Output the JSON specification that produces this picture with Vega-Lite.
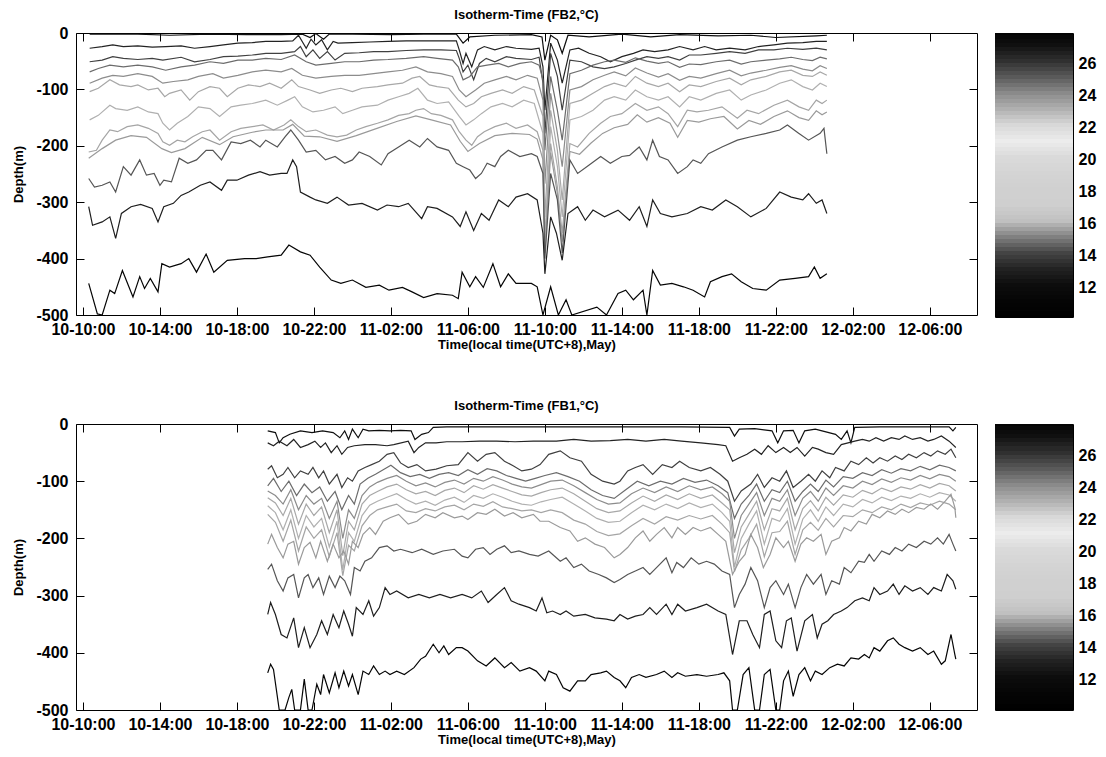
{
"$schema": "https://vega.github.io/schema/vega-lite/v6.json",
"autosize": {"type": "pad"},
"padding": {"left": 12, "top": 8, "right": 2, "bottom": 5},
"background": "white",
"config": {
 "view": {"stroke": "#000", "strokeWidth": 1},
 "axis": {"labelFont": "Liberation Sans", "titleFont": "Liberation Sans", "labelFontWeight": "bold", "titleFontWeight": "bold", "labelColor": "#000", "titleColor": "#000", "tickColor": "#000", "domain": false, "grid": false},
 "title": {"font": "Liberation Sans", "fontWeight": "bold", "fontSize": 13, "color": "#000"}
},
"datasets": {
"iso": [
{"f":2,"T":27,"h":10.35,"d":-2},{"f":2,"T":27,"h":12.85,"d":-2},{"f":2,"T":27,"h":14.5,"d":-4},{"f":2,"T":27,"h":16.6,"d":-2},{"f":2,"T":27,"h":18.5,"d":-3},{"f":2,"T":27,"h":20.3,"d":-3},{"f":2,"T":27,"h":21.4,"d":-2},{"f":2,"T":27,"h":21.8,"d":-8},{"f":2,"T":27,"h":22.1,"d":-1},{"f":2,"T":27,"h":22.5,"d":-11},{"f":2,"T":27,"h":22.8,"d":-2},{"f":2,"T":27,"h":24.0,"d":-2},{"f":2,"T":27,"h":26.0,"d":-3},{"f":2,"T":27,"h":27.7,"d":-2},{"f":2,"T":27,"h":29.4,"d":-2},{"f":2,"T":27,"h":29.75,"d":-18},{"f":2,"T":27,"h":30.1,"d":-7},{"f":2,"T":27,"h":31.4,"d":-4},{"f":2,"T":27,"h":33.3,"d":-3},{"f":2,"T":27,"h":33.85,"d":-7},{"f":2,"T":27,"h":34.0,"d":-48},{"f":2,"T":27,"h":34.3,"d":-4},{"f":2,"T":27,"h":34.65,"d":-12},{"f":2,"T":27,"h":34.9,"d":-36},{"f":2,"T":27,"h":35.2,"d":-4},{"f":2,"T":27,"h":36.3,"d":-7},{"f":2,"T":27,"h":38.0,"d":-2},{"f":2,"T":27,"h":39.5,"d":-7},{"f":2,"T":27,"h":41.0,"d":-3},{"f":2,"T":27,"h":43.0,"d":-5},{"f":2,"T":27,"h":44.7,"d":-4},{"f":2,"T":27,"h":46.0,"d":-8},{"f":2,"T":27,"h":48.1,"d":-5},{"f":2,"T":27,"h":48.65,"d":-4},
{"f":2,"T":26,"h":10.35,"d":-27},{"f":2,"T":26,"h":11.0,"d":-24},{"f":2,"T":26,"h":11.55,"d":-21},{"f":2,"T":26,"h":12.1,"d":-24},{"f":2,"T":26,"h":12.85,"d":-23},{"f":2,"T":26,"h":13.6,"d":-25},{"f":2,"T":26,"h":14.3,"d":-24},{"f":2,"T":26,"h":15.1,"d":-23},{"f":2,"T":26,"h":15.8,"d":-27},{"f":2,"T":26,"h":16.6,"d":-24},{"f":2,"T":26,"h":17.3,"d":-21},{"f":2,"T":26,"h":18.05,"d":-18},{"f":2,"T":26,"h":18.8,"d":-17},{"f":2,"T":26,"h":19.5,"d":-15},{"f":2,"T":26,"h":20.3,"d":-15},{"f":2,"T":26,"h":20.9,"d":-14},{"f":2,"T":26,"h":21.2,"d":-4},{"f":2,"T":26,"h":21.6,"d":-27},{"f":2,"T":26,"h":21.85,"d":-11},{"f":2,"T":26,"h":22.1,"d":-21},{"f":2,"T":26,"h":22.4,"d":-12},{"f":2,"T":26,"h":22.7,"d":-30},{"f":2,"T":26,"h":23.0,"d":-15},{"f":2,"T":26,"h":23.25,"d":-18},{"f":2,"T":26,"h":24.0,"d":-17},{"f":2,"T":26,"h":24.9,"d":-16},{"f":2,"T":26,"h":25.85,"d":-15},{"f":2,"T":26,"h":26.8,"d":-14},{"f":2,"T":26,"h":27.7,"d":-14},{"f":2,"T":26,"h":28.6,"d":-14},{"f":2,"T":26,"h":29.4,"d":-14},{"f":2,"T":26,"h":29.55,"d":-30},{"f":2,"T":26,"h":29.75,"d":-54},{"f":2,"T":26,"h":29.9,"d":-36},{"f":2,"T":26,"h":30.2,"d":-60},{"f":2,"T":26,"h":30.5,"d":-30},{"f":2,"T":26,"h":30.85,"d":-24},{"f":2,"T":26,"h":31.4,"d":-30},{"f":2,"T":26,"h":32.0,"d":-24},{"f":2,"T":26,"h":32.5,"d":-27},{"f":2,"T":26,"h":33.3,"d":-29},{"f":2,"T":26,"h":33.7,"d":-27},{"f":2,"T":26,"h":33.9,"d":-60},{"f":2,"T":26,"h":34.0,"d":-137},{"f":2,"T":26,"h":34.3,"d":-18},{"f":2,"T":26,"h":34.65,"d":-48},{"f":2,"T":26,"h":34.9,"d":-89},{"f":2,"T":26,"h":35.3,"d":-30},{"f":2,"T":26,"h":35.75,"d":-27},{"f":2,"T":26,"h":36.3,"d":-36},{"f":2,"T":26,"h":36.9,"d":-42},{"f":2,"T":26,"h":37.4,"d":-51},{"f":2,"T":26,"h":38.0,"d":-42},{"f":2,"T":26,"h":38.6,"d":-36},{"f":2,"T":26,"h":39.1,"d":-30},{"f":2,"T":26,"h":39.7,"d":-33},{"f":2,"T":26,"h":40.4,"d":-30},{"f":2,"T":26,"h":41.0,"d":-24},{"f":2,"T":26,"h":41.7,"d":-30},{"f":2,"T":26,"h":42.3,"d":-24},{"f":2,"T":26,"h":42.9,"d":-30},{"f":2,"T":26,"h":43.6,"d":-27},{"f":2,"T":26,"h":44.4,"d":-30},{"f":2,"T":26,"h":45.1,"d":-24},{"f":2,"T":26,"h":45.9,"d":-21},{"f":2,"T":26,"h":46.6,"d":-18},{"f":2,"T":26,"h":47.4,"d":-17},{"f":2,"T":26,"h":48.1,"d":-15},{"f":2,"T":26,"h":48.65,"d":-15},
{"f":2,"T":25,"h":10.35,"d":-51},{"f":2,"T":25,"h":11.0,"d":-48},{"f":2,"T":25,"h":11.55,"d":-42},{"f":2,"T":25,"h":12.1,"d":-45},{"f":2,"T":25,"h":12.85,"d":-47},{"f":2,"T":25,"h":13.6,"d":-45},{"f":2,"T":25,"h":14.15,"d":-48},{"f":2,"T":25,"h":15.1,"d":-43},{"f":2,"T":25,"h":15.8,"d":-51},{"f":2,"T":25,"h":16.6,"d":-47},{"f":2,"T":25,"h":17.3,"d":-42},{"f":2,"T":25,"h":18.05,"d":-41},{"f":2,"T":25,"h":18.8,"d":-39},{"f":2,"T":25,"h":19.5,"d":-36},{"f":2,"T":25,"h":20.3,"d":-36},{"f":2,"T":25,"h":21.0,"d":-33},{"f":2,"T":25,"h":21.3,"d":-24},{"f":2,"T":25,"h":21.6,"d":-42},{"f":2,"T":25,"h":21.95,"d":-30},{"f":2,"T":25,"h":22.3,"d":-45},{"f":2,"T":25,"h":22.7,"d":-33},{"f":2,"T":25,"h":23.1,"d":-48},{"f":2,"T":25,"h":23.6,"d":-36},{"f":2,"T":25,"h":24.35,"d":-35},{"f":2,"T":25,"h":25.1,"d":-33},{"f":2,"T":25,"h":25.85,"d":-33},{"f":2,"T":25,"h":26.8,"d":-31},{"f":2,"T":25,"h":27.7,"d":-30},{"f":2,"T":25,"h":28.6,"d":-30},{"f":2,"T":25,"h":29.4,"d":-31},{"f":2,"T":25,"h":29.55,"d":-45},{"f":2,"T":25,"h":29.75,"d":-69},{"f":2,"T":25,"h":30.0,"d":-57},{"f":2,"T":25,"h":30.3,"d":-83},{"f":2,"T":25,"h":30.6,"d":-54},{"f":2,"T":25,"h":30.95,"d":-45},{"f":2,"T":25,"h":31.4,"d":-51},{"f":2,"T":25,"h":32.0,"d":-42},{"f":2,"T":25,"h":32.5,"d":-45},{"f":2,"T":25,"h":33.3,"d":-47},{"f":2,"T":25,"h":33.7,"d":-43},{"f":2,"T":25,"h":33.9,"d":-89},{"f":2,"T":25,"h":34.0,"d":-178},{"f":2,"T":25,"h":34.3,"d":-36},{"f":2,"T":25,"h":34.65,"d":-77},{"f":2,"T":25,"h":34.9,"d":-137},{"f":2,"T":25,"h":35.3,"d":-48},{"f":2,"T":25,"h":35.9,"d":-51},{"f":2,"T":25,"h":36.5,"d":-60},{"f":2,"T":25,"h":37.1,"d":-63},{"f":2,"T":25,"h":37.6,"d":-60},{"f":2,"T":25,"h":38.2,"d":-54},{"f":2,"T":25,"h":38.7,"d":-48},{"f":2,"T":25,"h":39.3,"d":-42},{"f":2,"T":25,"h":39.9,"d":-45},{"f":2,"T":25,"h":40.4,"d":-42},{"f":2,"T":25,"h":41.0,"d":-48},{"f":2,"T":25,"h":41.5,"d":-39},{"f":2,"T":25,"h":42.1,"d":-39},{"f":2,"T":25,"h":42.9,"d":-36},{"f":2,"T":25,"h":43.6,"d":-33},{"f":2,"T":25,"h":44.4,"d":-36},{"f":2,"T":25,"h":45.1,"d":-30},{"f":2,"T":25,"h":45.9,"d":-30},{"f":2,"T":25,"h":46.6,"d":-27},{"f":2,"T":25,"h":47.4,"d":-29},{"f":2,"T":25,"h":48.1,"d":-27},{"f":2,"T":25,"h":48.65,"d":-30},
{"f":2,"T":24,"h":10.35,"d":-69},{"f":2,"T":24,"h":10.8,"d":-63},{"f":2,"T":24,"h":11.4,"d":-57},{"f":2,"T":24,"h":12.1,"d":-60},{"f":2,"T":24,"h":12.85,"d":-57},{"f":2,"T":24,"h":13.6,"d":-60},{"f":2,"T":24,"h":14.3,"d":-66},{"f":2,"T":24,"h":15.1,"d":-60},{"f":2,"T":24,"h":15.8,"d":-57},{"f":2,"T":24,"h":16.6,"d":-51},{"f":2,"T":24,"h":17.3,"d":-54},{"f":2,"T":24,"h":18.05,"d":-48},{"f":2,"T":24,"h":18.8,"d":-48},{"f":2,"T":24,"h":19.5,"d":-45},{"f":2,"T":24,"h":20.3,"d":-47},{"f":2,"T":24,"h":21.0,"d":-39},{"f":2,"T":24,"h":21.6,"d":-51},{"f":2,"T":24,"h":22.1,"d":-57},{"f":2,"T":24,"h":22.9,"d":-54},{"f":2,"T":24,"h":23.6,"d":-51},{"f":2,"T":24,"h":24.35,"d":-51},{"f":2,"T":24,"h":25.1,"d":-48},{"f":2,"T":24,"h":25.85,"d":-47},{"f":2,"T":24,"h":26.8,"d":-45},{"f":2,"T":24,"h":27.7,"d":-42},{"f":2,"T":24,"h":28.4,"d":-45},{"f":2,"T":24,"h":29.2,"d":-48},{"f":2,"T":24,"h":29.5,"d":-60},{"f":2,"T":24,"h":29.75,"d":-83},{"f":2,"T":24,"h":30.1,"d":-77},{"f":2,"T":24,"h":30.5,"d":-60},{"f":2,"T":24,"h":31.0,"d":-57},{"f":2,"T":24,"h":31.6,"d":-54},{"f":2,"T":24,"h":32.1,"d":-60},{"f":2,"T":24,"h":32.7,"d":-54},{"f":2,"T":24,"h":33.3,"d":-51},{"f":2,"T":24,"h":33.7,"d":-57},{"f":2,"T":24,"h":33.9,"d":-83},{"f":2,"T":24,"h":34.0,"d":-208},{"f":2,"T":24,"h":34.3,"d":-77},{"f":2,"T":24,"h":34.65,"d":-137},{"f":2,"T":24,"h":34.9,"d":-190},{"f":2,"T":24,"h":35.3,"d":-72},{"f":2,"T":24,"h":35.9,"d":-66},{"f":2,"T":24,"h":36.5,"d":-57},{"f":2,"T":24,"h":37.1,"d":-51},{"f":2,"T":24,"h":37.6,"d":-48},{"f":2,"T":24,"h":38.2,"d":-52},{"f":2,"T":24,"h":38.7,"d":-44},{"f":2,"T":24,"h":39.3,"d":-50},{"f":2,"T":24,"h":39.9,"d":-54},{"f":2,"T":24,"h":40.4,"d":-51},{"f":2,"T":24,"h":41.0,"d":-61},{"f":2,"T":24,"h":41.5,"d":-55},{"f":2,"T":24,"h":42.1,"d":-56},{"f":2,"T":24,"h":42.9,"d":-51},{"f":2,"T":24,"h":43.6,"d":-48},{"f":2,"T":24,"h":44.2,"d":-55},{"f":2,"T":24,"h":44.7,"d":-51},{"f":2,"T":24,"h":45.5,"d":-48},{"f":2,"T":24,"h":46.2,"d":-46},{"f":2,"T":24,"h":46.8,"d":-43},{"f":2,"T":24,"h":47.4,"d":-47},{"f":2,"T":24,"h":47.9,"d":-49},{"f":2,"T":24,"h":48.3,"d":-43},{"f":2,"T":24,"h":48.65,"d":-46},
{"f":2,"T":23,"h":10.35,"d":-89},{"f":2,"T":23,"h":11.0,"d":-80},{"f":2,"T":23,"h":11.55,"d":-75},{"f":2,"T":23,"h":12.1,"d":-77},{"f":2,"T":23,"h":12.85,"d":-72},{"f":2,"T":23,"h":13.6,"d":-77},{"f":2,"T":23,"h":14.15,"d":-89},{"f":2,"T":23,"h":14.7,"d":-86},{"f":2,"T":23,"h":15.45,"d":-83},{"f":2,"T":23,"h":16.0,"d":-77},{"f":2,"T":23,"h":16.75,"d":-72},{"f":2,"T":23,"h":17.3,"d":-80},{"f":2,"T":23,"h":18.05,"d":-75},{"f":2,"T":23,"h":18.8,"d":-69},{"f":2,"T":23,"h":19.5,"d":-66},{"f":2,"T":23,"h":20.3,"d":-69},{"f":2,"T":23,"h":20.85,"d":-63},{"f":2,"T":23,"h":21.4,"d":-75},{"f":2,"T":23,"h":22.1,"d":-80},{"f":2,"T":23,"h":22.9,"d":-77},{"f":2,"T":23,"h":23.6,"d":-75},{"f":2,"T":23,"h":24.35,"d":-75},{"f":2,"T":23,"h":25.1,"d":-72},{"f":2,"T":23,"h":25.85,"d":-69},{"f":2,"T":23,"h":26.6,"d":-66},{"f":2,"T":23,"h":27.3,"d":-60},{"f":2,"T":23,"h":27.9,"d":-69},{"f":2,"T":23,"h":28.6,"d":-72},{"f":2,"T":23,"h":29.2,"d":-77},{"f":2,"T":23,"h":29.55,"d":-101},{"f":2,"T":23,"h":29.9,"d":-113},{"f":2,"T":23,"h":30.4,"d":-101},{"f":2,"T":23,"h":30.85,"d":-89},{"f":2,"T":23,"h":31.4,"d":-83},{"f":2,"T":23,"h":32.0,"d":-77},{"f":2,"T":23,"h":32.5,"d":-83},{"f":2,"T":23,"h":33.1,"d":-75},{"f":2,"T":23,"h":33.6,"d":-80},{"f":2,"T":23,"h":33.9,"d":-119},{"f":2,"T":23,"h":34.0,"d":-267},{"f":2,"T":23,"h":34.3,"d":-107},{"f":2,"T":23,"h":34.65,"d":-178},{"f":2,"T":23,"h":34.9,"d":-237},{"f":2,"T":23,"h":35.3,"d":-101},{"f":2,"T":23,"h":35.9,"d":-95},{"f":2,"T":23,"h":36.5,"d":-83},{"f":2,"T":23,"h":37.1,"d":-75},{"f":2,"T":23,"h":37.6,"d":-69},{"f":2,"T":23,"h":38.2,"d":-76},{"f":2,"T":23,"h":38.7,"d":-62},{"f":2,"T":23,"h":39.3,"d":-71},{"f":2,"T":23,"h":39.9,"d":-78},{"f":2,"T":23,"h":40.4,"d":-72},{"f":2,"T":23,"h":41.0,"d":-84},{"f":2,"T":23,"h":41.5,"d":-77},{"f":2,"T":23,"h":42.1,"d":-80},{"f":2,"T":23,"h":42.9,"d":-72},{"f":2,"T":23,"h":43.6,"d":-66},{"f":2,"T":23,"h":44.2,"d":-76},{"f":2,"T":23,"h":44.7,"d":-71},{"f":2,"T":23,"h":45.5,"d":-66},{"f":2,"T":23,"h":46.2,"d":-61},{"f":2,"T":23,"h":46.8,"d":-58},{"f":2,"T":23,"h":47.4,"d":-64},{"f":2,"T":23,"h":47.9,"d":-67},{"f":2,"T":23,"h":48.3,"d":-58},{"f":2,"T":23,"h":48.65,"d":-63},
{"f":2,"T":22,"h":10.35,"d":-104},{"f":2,"T":22,"h":10.8,"d":-98},{"f":2,"T":22,"h":11.4,"d":-83},{"f":2,"T":22,"h":11.9,"d":-92},{"f":2,"T":22,"h":12.5,"d":-95},{"f":2,"T":22,"h":12.85,"d":-92},{"f":2,"T":22,"h":13.4,"d":-101},{"f":2,"T":22,"h":13.9,"d":-98},{"f":2,"T":22,"h":14.25,"d":-113},{"f":2,"T":22,"h":14.5,"d":-107},{"f":2,"T":22,"h":15.1,"d":-101},{"f":2,"T":22,"h":15.55,"d":-119},{"f":2,"T":22,"h":16.0,"d":-104},{"f":2,"T":22,"h":16.6,"d":-95},{"f":2,"T":22,"h":17.1,"d":-98},{"f":2,"T":22,"h":17.5,"d":-113},{"f":2,"T":22,"h":18.05,"d":-98},{"f":2,"T":22,"h":18.6,"d":-92},{"f":2,"T":22,"h":19.2,"d":-95},{"f":2,"T":22,"h":19.7,"d":-89},{"f":2,"T":22,"h":20.3,"d":-98},{"f":2,"T":22,"h":20.85,"d":-83},{"f":2,"T":22,"h":21.2,"d":-95},{"f":2,"T":22,"h":21.8,"d":-101},{"f":2,"T":22,"h":22.3,"d":-107},{"f":2,"T":22,"h":22.9,"d":-101},{"f":2,"T":22,"h":23.4,"d":-98},{"f":2,"T":22,"h":24.0,"d":-104},{"f":2,"T":22,"h":24.5,"d":-98},{"f":2,"T":22,"h":25.3,"d":-95},{"f":2,"T":22,"h":25.85,"d":-92},{"f":2,"T":22,"h":26.6,"d":-89},{"f":2,"T":22,"h":27.1,"d":-80},{"f":2,"T":22,"h":27.5,"d":-77},{"f":2,"T":22,"h":28.0,"d":-92},{"f":2,"T":22,"h":28.4,"d":-95},{"f":2,"T":22,"h":29.0,"d":-98},{"f":2,"T":22,"h":29.5,"d":-119},{"f":2,"T":22,"h":29.9,"d":-131},{"f":2,"T":22,"h":30.3,"d":-125},{"f":2,"T":22,"h":30.7,"d":-113},{"f":2,"T":22,"h":31.2,"d":-107},{"f":2,"T":22,"h":31.8,"d":-101},{"f":2,"T":22,"h":32.3,"d":-107},{"f":2,"T":22,"h":32.9,"d":-95},{"f":2,"T":22,"h":33.45,"d":-101},{"f":2,"T":22,"h":33.9,"d":-148},{"f":2,"T":22,"h":34.0,"d":-326},{"f":2,"T":22,"h":34.3,"d":-137},{"f":2,"T":22,"h":34.65,"d":-208},{"f":2,"T":22,"h":34.9,"d":-296},{"f":2,"T":22,"h":35.3,"d":-125},{"f":2,"T":22,"h":35.9,"d":-119},{"f":2,"T":22,"h":36.5,"d":-107},{"f":2,"T":22,"h":37.1,"d":-95},{"f":2,"T":22,"h":37.6,"d":-89},{"f":2,"T":22,"h":38.2,"d":-95},{"f":2,"T":22,"h":38.7,"d":-77},{"f":2,"T":22,"h":39.3,"d":-89},{"f":2,"T":22,"h":39.9,"d":-95},{"f":2,"T":22,"h":40.4,"d":-89},{"f":2,"T":22,"h":41.0,"d":-104},{"f":2,"T":22,"h":41.5,"d":-92},{"f":2,"T":22,"h":42.1,"d":-95},{"f":2,"T":22,"h":42.9,"d":-86},{"f":2,"T":22,"h":43.6,"d":-80},{"f":2,"T":22,"h":44.2,"d":-92},{"f":2,"T":22,"h":44.7,"d":-83},{"f":2,"T":22,"h":45.5,"d":-77},{"f":2,"T":22,"h":46.2,"d":-69},{"f":2,"T":22,"h":46.8,"d":-66},{"f":2,"T":22,"h":47.4,"d":-75},{"f":2,"T":22,"h":47.9,"d":-77},{"f":2,"T":22,"h":48.3,"d":-69},{"f":2,"T":22,"h":48.65,"d":-75},
{"f":2,"T":20,"h":10.35,"d":-154},{"f":2,"T":20,"h":10.8,"d":-146},{"f":2,"T":20,"h":11.4,"d":-128},{"f":2,"T":20,"h":11.7,"d":-134},{"f":2,"T":20,"h":12.3,"d":-137},{"f":2,"T":20,"h":12.85,"d":-131},{"f":2,"T":20,"h":13.4,"d":-140},{"f":2,"T":20,"h":13.9,"d":-143},{"f":2,"T":20,"h":14.15,"d":-160},{"f":2,"T":20,"h":14.5,"d":-172},{"f":2,"T":20,"h":14.9,"d":-160},{"f":2,"T":20,"h":15.45,"d":-148},{"f":2,"T":20,"h":16.0,"d":-131},{"f":2,"T":20,"h":16.6,"d":-134},{"f":2,"T":20,"h":17.1,"d":-148},{"f":2,"T":20,"h":17.7,"d":-131},{"f":2,"T":20,"h":18.2,"d":-128},{"f":2,"T":20,"h":18.8,"d":-125},{"f":2,"T":20,"h":19.5,"d":-119},{"f":2,"T":20,"h":20.1,"d":-128},{"f":2,"T":20,"h":20.65,"d":-119},{"f":2,"T":20,"h":21.0,"d":-113},{"f":2,"T":20,"h":21.4,"d":-131},{"f":2,"T":20,"h":21.95,"d":-140},{"f":2,"T":20,"h":22.5,"d":-137},{"f":2,"T":20,"h":23.1,"d":-131},{"f":2,"T":20,"h":23.5,"d":-143},{"f":2,"T":20,"h":24.0,"d":-137},{"f":2,"T":20,"h":24.5,"d":-131},{"f":2,"T":20,"h":25.3,"d":-128},{"f":2,"T":20,"h":25.85,"d":-119},{"f":2,"T":20,"h":26.4,"d":-113},{"f":2,"T":20,"h":26.95,"d":-107},{"f":2,"T":20,"h":27.4,"d":-98},{"f":2,"T":20,"h":27.9,"d":-119},{"f":2,"T":20,"h":28.4,"d":-125},{"f":2,"T":20,"h":29.0,"d":-122},{"f":2,"T":20,"h":29.55,"d":-148},{"f":2,"T":20,"h":29.9,"d":-163},{"f":2,"T":20,"h":30.3,"d":-154},{"f":2,"T":20,"h":30.7,"d":-143},{"f":2,"T":20,"h":31.2,"d":-131},{"f":2,"T":20,"h":31.8,"d":-125},{"f":2,"T":20,"h":32.3,"d":-131},{"f":2,"T":20,"h":32.9,"d":-119},{"f":2,"T":20,"h":33.45,"d":-125},{"f":2,"T":20,"h":33.9,"d":-178},{"f":2,"T":20,"h":34.0,"d":-367},{"f":2,"T":20,"h":34.3,"d":-166},{"f":2,"T":20,"h":34.65,"d":-237},{"f":2,"T":20,"h":34.9,"d":-326},{"f":2,"T":20,"h":35.3,"d":-154},{"f":2,"T":20,"h":35.9,"d":-148},{"f":2,"T":20,"h":36.5,"d":-137},{"f":2,"T":20,"h":37.1,"d":-119},{"f":2,"T":20,"h":37.6,"d":-113},{"f":2,"T":20,"h":38.2,"d":-119},{"f":2,"T":20,"h":38.7,"d":-101},{"f":2,"T":20,"h":39.3,"d":-113},{"f":2,"T":20,"h":39.9,"d":-119},{"f":2,"T":20,"h":40.4,"d":-113},{"f":2,"T":20,"h":41.0,"d":-131},{"f":2,"T":20,"h":41.5,"d":-113},{"f":2,"T":20,"h":42.1,"d":-119},{"f":2,"T":20,"h":42.9,"d":-107},{"f":2,"T":20,"h":43.6,"d":-101},{"f":2,"T":20,"h":44.2,"d":-119},{"f":2,"T":20,"h":44.7,"d":-110},{"f":2,"T":20,"h":45.5,"d":-101},{"f":2,"T":20,"h":46.2,"d":-89},{"f":2,"T":20,"h":46.8,"d":-83},{"f":2,"T":20,"h":47.4,"d":-95},{"f":2,"T":20,"h":47.9,"d":-101},{"f":2,"T":20,"h":48.3,"d":-89},{"f":2,"T":20,"h":48.65,"d":-95},
{"f":2,"T":18,"h":10.3,"d":-211},{"f":2,"T":18,"h":10.7,"d":-208},{"f":2,"T":18,"h":11.0,"d":-190},{"f":2,"T":18,"h":11.4,"d":-172},{"f":2,"T":18,"h":11.8,"d":-175},{"f":2,"T":18,"h":12.3,"d":-166},{"f":2,"T":18,"h":12.85,"d":-163},{"f":2,"T":18,"h":13.4,"d":-169},{"f":2,"T":18,"h":13.9,"d":-178},{"f":2,"T":18,"h":14.15,"d":-193},{"f":2,"T":18,"h":14.5,"d":-199},{"f":2,"T":18,"h":14.9,"d":-190},{"f":2,"T":18,"h":15.3,"d":-193},{"f":2,"T":18,"h":15.7,"d":-184},{"f":2,"T":18,"h":16.2,"d":-175},{"f":2,"T":18,"h":16.6,"d":-172},{"f":2,"T":18,"h":17.1,"d":-190},{"f":2,"T":18,"h":17.7,"d":-175},{"f":2,"T":18,"h":18.2,"d":-169},{"f":2,"T":18,"h":18.8,"d":-166},{"f":2,"T":18,"h":19.35,"d":-163},{"f":2,"T":18,"h":19.9,"d":-172},{"f":2,"T":18,"h":20.45,"d":-163},{"f":2,"T":18,"h":20.8,"d":-154},{"f":2,"T":18,"h":21.2,"d":-166},{"f":2,"T":18,"h":21.6,"d":-175},{"f":2,"T":18,"h":22.1,"d":-172},{"f":2,"T":18,"h":22.7,"d":-181},{"f":2,"T":18,"h":23.2,"d":-184},{"f":2,"T":18,"h":23.7,"d":-181},{"f":2,"T":18,"h":24.2,"d":-172},{"f":2,"T":18,"h":24.7,"d":-166},{"f":2,"T":18,"h":25.3,"d":-160},{"f":2,"T":18,"h":25.85,"d":-154},{"f":2,"T":18,"h":26.4,"d":-146},{"f":2,"T":18,"h":26.95,"d":-143},{"f":2,"T":18,"h":27.3,"d":-137},{"f":2,"T":18,"h":27.7,"d":-134},{"f":2,"T":18,"h":28.1,"d":-143},{"f":2,"T":18,"h":28.6,"d":-146},{"f":2,"T":18,"h":29.2,"d":-154},{"f":2,"T":18,"h":29.55,"d":-175},{"f":2,"T":18,"h":29.9,"d":-190},{"f":2,"T":18,"h":30.2,"d":-199},{"f":2,"T":18,"h":30.5,"d":-184},{"f":2,"T":18,"h":30.85,"d":-175},{"f":2,"T":18,"h":31.4,"d":-166},{"f":2,"T":18,"h":32.0,"d":-160},{"f":2,"T":18,"h":32.5,"d":-169},{"f":2,"T":18,"h":33.1,"d":-163},{"f":2,"T":18,"h":33.6,"d":-175},{"f":2,"T":18,"h":33.9,"d":-208},{"f":2,"T":18,"h":34.0,"d":-380},{"f":2,"T":18,"h":34.3,"d":-196},{"f":2,"T":18,"h":34.65,"d":-273},{"f":2,"T":18,"h":34.9,"d":-355},{"f":2,"T":18,"h":35.3,"d":-196},{"f":2,"T":18,"h":35.7,"d":-202},{"f":2,"T":18,"h":36.3,"d":-178},{"f":2,"T":18,"h":36.9,"d":-160},{"f":2,"T":18,"h":37.4,"d":-148},{"f":2,"T":18,"h":38.0,"d":-143},{"f":2,"T":18,"h":38.7,"d":-125},{"f":2,"T":18,"h":39.3,"d":-137},{"f":2,"T":18,"h":39.9,"d":-131},{"f":2,"T":18,"h":40.4,"d":-143},{"f":2,"T":18,"h":40.9,"d":-166},{"f":2,"T":18,"h":41.4,"d":-137},{"f":2,"T":18,"h":41.9,"d":-140},{"f":2,"T":18,"h":42.5,"d":-137},{"f":2,"T":18,"h":43.2,"d":-131},{"f":2,"T":18,"h":44.0,"d":-151},{"f":2,"T":18,"h":44.5,"d":-137},{"f":2,"T":18,"h":45.1,"d":-143},{"f":2,"T":18,"h":45.9,"d":-128},{"f":2,"T":18,"h":46.6,"d":-119},{"f":2,"T":18,"h":47.2,"d":-131},{"f":2,"T":18,"h":47.7,"d":-137},{"f":2,"T":18,"h":48.1,"d":-119},{"f":2,"T":18,"h":48.4,"d":-125},{"f":2,"T":18,"h":48.65,"d":-119},
{"f":2,"T":17,"h":10.3,"d":-222},{"f":2,"T":17,"h":11.0,"d":-205},{"f":2,"T":17,"h":11.7,"d":-190},{"f":2,"T":17,"h":12.5,"d":-182},{"f":2,"T":17,"h":13.3,"d":-185},{"f":2,"T":17,"h":14.1,"d":-205},{"f":2,"T":17,"h":14.6,"d":-212},{"f":2,"T":17,"h":15.3,"d":-205},{"f":2,"T":17,"h":16.2,"d":-185},{"f":2,"T":17,"h":17.1,"d":-198},{"f":2,"T":17,"h":17.8,"d":-184},{"f":2,"T":17,"h":18.8,"d":-176},{"f":2,"T":17,"h":19.5,"d":-172},{"f":2,"T":17,"h":20.4,"d":-172},{"f":2,"T":17,"h":20.9,"d":-162},{"f":2,"T":17,"h":21.5,"d":-183},{"f":2,"T":17,"h":22.3,"d":-184},{"f":2,"T":17,"h":23.2,"d":-192},{"f":2,"T":17,"h":24.2,"d":-182},{"f":2,"T":17,"h":25.2,"d":-170},{"f":2,"T":17,"h":26.3,"d":-157},{"f":2,"T":17,"h":27.3,"d":-147},{"f":2,"T":17,"h":28.1,"d":-154},{"f":2,"T":17,"h":29.1,"d":-163},{"f":2,"T":17,"h":29.6,"d":-192},{"f":2,"T":17,"h":30.0,"d":-210},{"f":2,"T":17,"h":30.6,"d":-196},{"f":2,"T":17,"h":31.4,"d":-182},{"f":2,"T":17,"h":32.3,"d":-178},{"f":2,"T":17,"h":33.2,"d":-180},{"f":2,"T":17,"h":33.6,"d":-188},{"f":2,"T":17,"h":33.9,"d":-225},{"f":2,"T":17,"h":34.0,"d":-390},{"f":2,"T":17,"h":34.3,"d":-212},{"f":2,"T":17,"h":34.65,"d":-285},{"f":2,"T":17,"h":34.9,"d":-370},{"f":2,"T":17,"h":35.3,"d":-210},{"f":2,"T":17,"h":35.8,"d":-215},{"f":2,"T":17,"h":36.4,"d":-195},{"f":2,"T":17,"h":37.0,"d":-178},{"f":2,"T":17,"h":37.6,"d":-168},{"f":2,"T":17,"h":38.3,"d":-162},{"f":2,"T":17,"h":38.8,"d":-145},{"f":2,"T":17,"h":39.3,"d":-158},{"f":2,"T":17,"h":39.9,"d":-150},{"f":2,"T":17,"h":40.5,"d":-160},{"f":2,"T":17,"h":40.9,"d":-185},{"f":2,"T":17,"h":41.4,"d":-155},{"f":2,"T":17,"h":42.0,"d":-158},{"f":2,"T":17,"h":42.6,"d":-152},{"f":2,"T":17,"h":43.3,"d":-148},{"f":2,"T":17,"h":44.0,"d":-170},{"f":2,"T":17,"h":44.6,"d":-155},{"f":2,"T":17,"h":45.2,"d":-162},{"f":2,"T":17,"h":45.9,"d":-148},{"f":2,"T":17,"h":46.6,"d":-138},{"f":2,"T":17,"h":47.2,"d":-150},{"f":2,"T":17,"h":47.7,"d":-155},{"f":2,"T":17,"h":48.1,"d":-138},{"f":2,"T":17,"h":48.4,"d":-145},{"f":2,"T":17,"h":48.65,"d":-140},
{"f":2,"T":15,"h":10.3,"d":-258},{"f":2,"T":15,"h":10.6,"d":-273},{"f":2,"T":15,"h":11.0,"d":-270},{"f":2,"T":15,"h":11.4,"d":-264},{"f":2,"T":15,"h":11.7,"d":-282},{"f":2,"T":15,"h":12.1,"d":-237},{"f":2,"T":15,"h":12.5,"d":-252},{"f":2,"T":15,"h":12.95,"d":-225},{"f":2,"T":15,"h":13.3,"d":-252},{"f":2,"T":15,"h":13.7,"d":-249},{"f":2,"T":15,"h":14.0,"d":-270},{"f":2,"T":15,"h":14.2,"d":-261},{"f":2,"T":15,"h":14.6,"d":-264},{"f":2,"T":15,"h":15.0,"d":-222},{"f":2,"T":15,"h":15.45,"d":-231},{"f":2,"T":15,"h":15.9,"d":-225},{"f":2,"T":15,"h":16.4,"d":-208},{"f":2,"T":15,"h":16.75,"d":-208},{"f":2,"T":15,"h":17.2,"d":-225},{"f":2,"T":15,"h":17.7,"d":-193},{"f":2,"T":15,"h":18.2,"d":-196},{"f":2,"T":15,"h":18.7,"d":-190},{"f":2,"T":15,"h":19.2,"d":-202},{"f":2,"T":15,"h":19.5,"d":-190},{"f":2,"T":15,"h":20.1,"d":-202},{"f":2,"T":15,"h":20.5,"d":-184},{"f":2,"T":15,"h":20.8,"d":-172},{"f":2,"T":15,"h":21.2,"d":-190},{"f":2,"T":15,"h":21.6,"d":-211},{"f":2,"T":15,"h":22.1,"d":-208},{"f":2,"T":15,"h":22.6,"d":-225},{"f":2,"T":15,"h":23.1,"d":-219},{"f":2,"T":15,"h":23.6,"d":-231},{"f":2,"T":15,"h":24.0,"d":-225},{"f":2,"T":15,"h":24.35,"d":-211},{"f":2,"T":15,"h":24.9,"d":-219},{"f":2,"T":15,"h":25.5,"d":-234},{"f":2,"T":15,"h":25.85,"d":-214},{"f":2,"T":15,"h":26.4,"d":-202},{"f":2,"T":15,"h":26.95,"d":-190},{"f":2,"T":15,"h":27.5,"d":-202},{"f":2,"T":15,"h":27.9,"d":-187},{"f":2,"T":15,"h":28.4,"d":-202},{"f":2,"T":15,"h":29.0,"d":-208},{"f":2,"T":15,"h":29.4,"d":-231},{"f":2,"T":15,"h":29.75,"d":-237},{"f":2,"T":15,"h":30.1,"d":-243},{"f":2,"T":15,"h":30.4,"d":-258},{"f":2,"T":15,"h":30.7,"d":-249},{"f":2,"T":15,"h":31.0,"d":-231},{"f":2,"T":15,"h":31.4,"d":-237},{"f":2,"T":15,"h":31.7,"d":-219},{"f":2,"T":15,"h":32.1,"d":-208},{"f":2,"T":15,"h":32.7,"d":-219},{"f":2,"T":15,"h":33.3,"d":-214},{"f":2,"T":15,"h":33.6,"d":-219},{"f":2,"T":15,"h":33.9,"d":-249},{"f":2,"T":15,"h":34.0,"d":-400},{"f":2,"T":15,"h":34.3,"d":-249},{"f":2,"T":15,"h":34.65,"d":-296},{"f":2,"T":15,"h":34.9,"d":-390},{"f":2,"T":15,"h":35.3,"d":-225},{"f":2,"T":15,"h":35.7,"d":-249},{"f":2,"T":15,"h":36.3,"d":-234},{"f":2,"T":15,"h":36.9,"d":-219},{"f":2,"T":15,"h":37.4,"d":-231},{"f":2,"T":15,"h":38.0,"d":-219},{"f":2,"T":15,"h":38.4,"d":-217},{"f":2,"T":15,"h":38.9,"d":-202},{"f":2,"T":15,"h":39.3,"d":-225},{"f":2,"T":15,"h":39.6,"d":-190},{"f":2,"T":15,"h":39.95,"d":-219},{"f":2,"T":15,"h":40.4,"d":-225},{"f":2,"T":15,"h":40.9,"d":-249},{"f":2,"T":15,"h":41.4,"d":-237},{"f":2,"T":15,"h":41.7,"d":-225},{"f":2,"T":15,"h":42.1,"d":-231},{"f":2,"T":15,"h":42.5,"d":-214},{"f":2,"T":15,"h":43.2,"d":-202},{"f":2,"T":15,"h":44.0,"d":-190},{"f":2,"T":15,"h":44.7,"d":-184},{"f":2,"T":15,"h":45.5,"d":-178},{"f":2,"T":15,"h":46.2,"d":-172},{"f":2,"T":15,"h":46.6,"d":-163},{"f":2,"T":15,"h":47.2,"d":-178},{"f":2,"T":15,"h":47.7,"d":-190},{"f":2,"T":15,"h":48.3,"d":-178},{"f":2,"T":15,"h":48.5,"d":-169},{"f":2,"T":15,"h":48.65,"d":-214},
{"f":2,"T":13,"h":10.3,"d":-308},{"f":2,"T":13,"h":10.5,"d":-341},{"f":2,"T":13,"h":11.0,"d":-335},{"f":2,"T":13,"h":11.4,"d":-326},{"f":2,"T":13,"h":11.7,"d":-364},{"f":2,"T":13,"h":12.0,"d":-320},{"f":2,"T":13,"h":12.5,"d":-308},{"f":2,"T":13,"h":13.0,"d":-304},{"f":2,"T":13,"h":13.6,"d":-311},{"f":2,"T":13,"h":13.9,"d":-335},{"f":2,"T":13,"h":14.2,"d":-308},{"f":2,"T":13,"h":14.7,"d":-302},{"f":2,"T":13,"h":15.1,"d":-288},{"f":2,"T":13,"h":15.5,"d":-282},{"f":2,"T":13,"h":16.1,"d":-270},{"f":2,"T":13,"h":16.6,"d":-264},{"f":2,"T":13,"h":17.2,"d":-279},{"f":2,"T":13,"h":17.5,"d":-261},{"f":2,"T":13,"h":18.0,"d":-261},{"f":2,"T":13,"h":18.6,"d":-252},{"f":2,"T":13,"h":19.2,"d":-246},{"f":2,"T":13,"h":19.7,"d":-252},{"f":2,"T":13,"h":20.3,"d":-249},{"f":2,"T":13,"h":20.6,"d":-249},{"f":2,"T":13,"h":20.9,"d":-225},{"f":2,"T":13,"h":21.1,"d":-237},{"f":2,"T":13,"h":21.3,"d":-282},{"f":2,"T":13,"h":21.8,"d":-291},{"f":2,"T":13,"h":22.1,"d":-296},{"f":2,"T":13,"h":22.7,"d":-302},{"f":2,"T":13,"h":23.2,"d":-291},{"f":2,"T":13,"h":23.8,"d":-305},{"f":2,"T":13,"h":24.5,"d":-302},{"f":2,"T":13,"h":25.3,"d":-314},{"f":2,"T":13,"h":25.8,"d":-305},{"f":2,"T":13,"h":26.4,"d":-308},{"f":2,"T":13,"h":26.9,"d":-302},{"f":2,"T":13,"h":27.6,"d":-329},{"f":2,"T":13,"h":27.9,"d":-308},{"f":2,"T":13,"h":28.4,"d":-311},{"f":2,"T":13,"h":29.2,"d":-326},{"f":2,"T":13,"h":29.6,"d":-343},{"f":2,"T":13,"h":29.9,"d":-317},{"f":2,"T":13,"h":30.3,"d":-350},{"f":2,"T":13,"h":30.7,"d":-320},{"f":2,"T":13,"h":31.1,"d":-332},{"f":2,"T":13,"h":31.6,"d":-296},{"f":2,"T":13,"h":32.1,"d":-308},{"f":2,"T":13,"h":32.5,"d":-291},{"f":2,"T":13,"h":33.1,"d":-285},{"f":2,"T":13,"h":33.6,"d":-296},{"f":2,"T":13,"h":33.9,"d":-355},{"f":2,"T":13,"h":34.0,"d":-427},{"f":2,"T":13,"h":34.3,"d":-326},{"f":2,"T":13,"h":34.6,"d":-355},{"f":2,"T":13,"h":34.9,"d":-403},{"f":2,"T":13,"h":35.2,"d":-320},{"f":2,"T":13,"h":35.7,"d":-308},{"f":2,"T":13,"h":36.1,"d":-332},{"f":2,"T":13,"h":36.5,"d":-314},{"f":2,"T":13,"h":37.1,"d":-326},{"f":2,"T":13,"h":37.8,"d":-314},{"f":2,"T":13,"h":38.4,"d":-332},{"f":2,"T":13,"h":38.9,"d":-308},{"f":2,"T":13,"h":39.3,"d":-343},{"f":2,"T":13,"h":39.6,"d":-296},{"f":2,"T":13,"h":40.0,"d":-320},{"f":2,"T":13,"h":40.6,"d":-326},{"f":2,"T":13,"h":41.4,"d":-320},{"f":2,"T":13,"h":42.1,"d":-308},{"f":2,"T":13,"h":42.7,"d":-314},{"f":2,"T":13,"h":43.4,"d":-296},{"f":2,"T":13,"h":44.0,"d":-308},{"f":2,"T":13,"h":44.7,"d":-326},{"f":2,"T":13,"h":45.5,"d":-311},{"f":2,"T":13,"h":46.2,"d":-282},{"f":2,"T":13,"h":46.8,"d":-291},{"f":2,"T":13,"h":47.4,"d":-296},{"f":2,"T":13,"h":47.7,"d":-285},{"f":2,"T":13,"h":48.1,"d":-302},{"f":2,"T":13,"h":48.4,"d":-296},{"f":2,"T":13,"h":48.65,"d":-320},
{"f":2,"T":11,"h":10.3,"d":-444},{"f":2,"T":11,"h":10.75,"d":-498},{"f":2,"T":11,"h":11.0,"d":-500},{"f":2,"T":11,"h":11.4,"d":-456},{"f":2,"T":11,"h":11.65,"d":-462},{"f":2,"T":11,"h":12.05,"d":-421},{"f":2,"T":11,"h":12.6,"d":-468},{"f":2,"T":11,"h":12.95,"d":-432},{"f":2,"T":11,"h":13.2,"d":-453},{"f":2,"T":11,"h":13.5,"d":-435},{"f":2,"T":11,"h":13.9,"d":-459},{"f":2,"T":11,"h":14.1,"d":-409},{"f":2,"T":11,"h":14.5,"d":-415},{"f":2,"T":11,"h":15.1,"d":-409},{"f":2,"T":11,"h":15.5,"d":-400},{"f":2,"T":11,"h":15.9,"d":-424},{"f":2,"T":11,"h":16.4,"d":-392},{"f":2,"T":11,"h":16.8,"d":-424},{"f":2,"T":11,"h":17.5,"d":-403},{"f":2,"T":11,"h":18.4,"d":-400},{"f":2,"T":11,"h":19.0,"d":-400},{"f":2,"T":11,"h":19.6,"d":-397},{"f":2,"T":11,"h":20.3,"d":-394},{"f":2,"T":11,"h":20.7,"d":-376},{"f":2,"T":11,"h":21.3,"d":-388},{"f":2,"T":11,"h":21.8,"d":-394},{"f":2,"T":11,"h":22.3,"d":-415},{"f":2,"T":11,"h":22.9,"d":-438},{"f":2,"T":11,"h":23.4,"d":-444},{"f":2,"T":11,"h":24.0,"d":-438},{"f":2,"T":11,"h":24.7,"d":-451},{"f":2,"T":11,"h":25.4,"d":-447},{"f":2,"T":11,"h":25.9,"d":-456},{"f":2,"T":11,"h":26.6,"d":-451},{"f":2,"T":11,"h":27.1,"d":-459},{"f":2,"T":11,"h":27.7,"d":-469},{"f":2,"T":11,"h":28.4,"d":-462},{"f":2,"T":11,"h":29.2,"d":-465},{"f":2,"T":11,"h":29.5,"d":-471},{"f":2,"T":11,"h":29.7,"d":-424},{"f":2,"T":11,"h":30.1,"d":-450},{"f":2,"T":11,"h":30.4,"d":-432},{"f":2,"T":11,"h":30.8,"d":-451},{"f":2,"T":11,"h":31.3,"d":-409},{"f":2,"T":11,"h":31.7,"d":-450},{"f":2,"T":11,"h":32.1,"d":-427},{"f":2,"T":11,"h":32.5,"d":-444},{"f":2,"T":11,"h":33.3,"d":-444},{"f":2,"T":11,"h":33.6,"d":-450},{"f":2,"T":11,"h":33.9,"d":-500},{"f":2,"T":11,"h":34.3,"d":-450},{"f":2,"T":11,"h":34.7,"d":-500},{"f":2,"T":11,"h":35.1,"d":-473},{"f":2,"T":11,"h":35.4,"d":-500},{"f":2,"T":11,"h":36.7,"d":-486},{"f":2,"T":11,"h":37.2,"d":-500},{"f":2,"T":11,"h":37.8,"d":-462},{"f":2,"T":11,"h":38.2,"d":-456},{"f":2,"T":11,"h":38.6,"d":-473},{"f":2,"T":11,"h":39.1,"d":-456},{"f":2,"T":11,"h":39.3,"d":-500},{"f":2,"T":11,"h":39.6,"d":-421},{"f":2,"T":11,"h":40.0,"d":-447},{"f":2,"T":11,"h":40.6,"d":-444},{"f":2,"T":11,"h":41.2,"d":-450},{"f":2,"T":11,"h":41.7,"d":-456},{"f":2,"T":11,"h":42.3,"d":-468},{"f":2,"T":11,"h":42.6,"d":-441},{"f":2,"T":11,"h":43.2,"d":-432},{"f":2,"T":11,"h":43.7,"d":-427},{"f":2,"T":11,"h":44.2,"d":-441},{"f":2,"T":11,"h":44.8,"d":-453},{"f":2,"T":11,"h":45.5,"d":-456},{"f":2,"T":11,"h":46.2,"d":-438},{"f":2,"T":11,"h":47.0,"d":-435},{"f":2,"T":11,"h":47.7,"d":-432},{"f":2,"T":11,"h":48.0,"d":-415},{"f":2,"T":11,"h":48.3,"d":-435},{"f":2,"T":11,"h":48.65,"d":-427},
{"f":1,"T":27,"h":19.6,"d":-12},{"f":1,"T":27,"h":20.0,"d":-15},{"f":1,"T":27,"h":20.2,"d":-33},{"f":1,"T":27,"h":20.4,"d":-24},{"f":1,"T":27,"h":20.75,"d":-18},{"f":1,"T":27,"h":21.3,"d":-12},{"f":1,"T":27,"h":21.9,"d":-15},{"f":1,"T":27,"h":22.45,"d":-12},{"f":1,"T":27,"h":23.0,"d":-15},{"f":1,"T":27,"h":23.35,"d":-24},{"f":1,"T":27,"h":23.6,"d":-12},{"f":1,"T":27,"h":23.8,"d":-27},{"f":1,"T":27,"h":24.0,"d":-9},{"f":1,"T":27,"h":24.3,"d":-24},{"f":1,"T":27,"h":24.55,"d":-9},{"f":1,"T":27,"h":24.85,"d":-12},{"f":1,"T":27,"h":25.4,"d":-11},{"f":1,"T":27,"h":25.95,"d":-12},{"f":1,"T":27,"h":26.5,"d":-11},{"f":1,"T":27,"h":27.05,"d":-12},{"f":1,"T":27,"h":27.25,"d":-27},{"f":1,"T":27,"h":27.6,"d":-18},{"f":1,"T":27,"h":27.95,"d":-15},{"f":1,"T":27,"h":28.2,"d":-6},{"f":1,"T":27,"h":28.9,"d":-5},{"f":1,"T":27,"h":30.6,"d":-5},{"f":1,"T":27,"h":32.45,"d":-5},{"f":1,"T":27,"h":34.1,"d":-5},{"f":1,"T":27,"h":37.4,"d":-5},{"f":1,"T":27,"h":41.1,"d":-5},{"f":1,"T":27,"h":43.6,"d":-6},{"f":1,"T":27,"h":43.85,"d":-21},{"f":1,"T":27,"h":44.1,"d":-9},{"f":1,"T":27,"h":44.9,"d":-8},{"f":1,"T":27,"h":45.8,"d":-12},{"f":1,"T":27,"h":46.1,"d":-33},{"f":1,"T":27,"h":46.4,"d":-12},{"f":1,"T":27,"h":46.9,"d":-11},{"f":1,"T":27,"h":47.2,"d":-33},{"f":1,"T":27,"h":47.5,"d":-12},{"f":1,"T":27,"h":48.05,"d":-9},{"f":1,"T":27,"h":48.4,"d":-12},{"f":1,"T":27,"h":49.1,"d":-18},{"f":1,"T":27,"h":49.4,"d":-27},{"f":1,"T":27,"h":49.7,"d":-12},{"f":1,"T":27,"h":49.9,"d":-33},{"f":1,"T":27,"h":50.1,"d":-6},{"f":1,"T":27,"h":51.4,"d":-5},{"f":1,"T":27,"h":53.3,"d":-5},{"f":1,"T":27,"h":55.0,"d":-5},{"f":1,"T":27,"h":55.2,"d":-12},{"f":1,"T":27,"h":55.35,"d":-6},
{"f":1,"T":26,"h":19.6,"d":-33},{"f":1,"T":26,"h":19.9,"d":-38},{"f":1,"T":26,"h":20.2,"d":-30},{"f":1,"T":26,"h":20.6,"d":-38},{"f":1,"T":26,"h":20.95,"d":-27},{"f":1,"T":26,"h":21.3,"d":-41},{"f":1,"T":26,"h":21.7,"d":-36},{"f":1,"T":26,"h":22.05,"d":-30},{"f":1,"T":26,"h":22.35,"d":-41},{"f":1,"T":26,"h":22.6,"d":-33},{"f":1,"T":26,"h":22.9,"d":-50},{"f":1,"T":26,"h":23.2,"d":-38},{"f":1,"T":26,"h":23.45,"d":-53},{"f":1,"T":26,"h":23.75,"d":-41},{"f":1,"T":26,"h":24.1,"d":-38},{"f":1,"T":26,"h":24.65,"d":-36},{"f":1,"T":26,"h":25.2,"d":-36},{"f":1,"T":26,"h":25.8,"d":-38},{"f":1,"T":26,"h":26.15,"d":-36},{"f":1,"T":26,"h":26.9,"d":-30},{"f":1,"T":26,"h":27.2,"d":-50},{"f":1,"T":26,"h":27.45,"d":-41},{"f":1,"T":26,"h":27.8,"d":-33},{"f":1,"T":26,"h":28.35,"d":-33},{"f":1,"T":26,"h":28.9,"d":-31},{"f":1,"T":26,"h":29.7,"d":-31},{"f":1,"T":26,"h":30.6,"d":-30},{"f":1,"T":26,"h":31.5,"d":-30},{"f":1,"T":26,"h":32.45,"d":-31},{"f":1,"T":26,"h":33.4,"d":-30},{"f":1,"T":26,"h":34.6,"d":-30},{"f":1,"T":26,"h":35.5,"d":-27},{"f":1,"T":26,"h":36.4,"d":-30},{"f":1,"T":26,"h":37.4,"d":-29},{"f":1,"T":26,"h":38.3,"d":-27},{"f":1,"T":26,"h":39.25,"d":-30},{"f":1,"T":26,"h":40.2,"d":-27},{"f":1,"T":26,"h":41.1,"d":-30},{"f":1,"T":26,"h":42.1,"d":-33},{"f":1,"T":26,"h":43.0,"d":-36},{"f":1,"T":26,"h":43.4,"d":-38},{"f":1,"T":26,"h":43.75,"d":-65},{"f":1,"T":26,"h":44.1,"d":-59},{"f":1,"T":26,"h":44.5,"d":-53},{"f":1,"T":26,"h":44.9,"d":-44},{"f":1,"T":26,"h":45.25,"d":-53},{"f":1,"T":26,"h":45.6,"d":-38},{"f":1,"T":26,"h":46.0,"d":-50},{"f":1,"T":26,"h":46.4,"d":-41},{"f":1,"T":26,"h":46.75,"d":-50},{"f":1,"T":26,"h":47.1,"d":-41},{"f":1,"T":26,"h":47.5,"d":-56},{"f":1,"T":26,"h":47.9,"d":-41},{"f":1,"T":26,"h":48.2,"d":-44},{"f":1,"T":26,"h":48.6,"d":-50},{"f":1,"T":26,"h":49.0,"d":-53},{"f":1,"T":26,"h":49.4,"d":-36},{"f":1,"T":26,"h":49.75,"d":-33},{"f":1,"T":26,"h":50.1,"d":-30},{"f":1,"T":26,"h":50.5,"d":-27},{"f":1,"T":26,"h":50.85,"d":-30},{"f":1,"T":26,"h":51.2,"d":-24},{"f":1,"T":26,"h":51.6,"d":-30},{"f":1,"T":26,"h":52.0,"d":-24},{"f":1,"T":26,"h":52.4,"d":-27},{"f":1,"T":26,"h":52.7,"d":-21},{"f":1,"T":26,"h":53.1,"d":-27},{"f":1,"T":26,"h":53.5,"d":-24},{"f":1,"T":26,"h":53.9,"d":-30},{"f":1,"T":26,"h":54.2,"d":-27},{"f":1,"T":26,"h":54.6,"d":-21},{"f":1,"T":26,"h":55.0,"d":-30},{"f":1,"T":26,"h":55.35,"d":-41},
{"f":1,"T":25,"h":19.6,"d":-79},{"f":1,"T":25,"h":19.8,"d":-73},{"f":1,"T":25,"h":20.1,"d":-94},{"f":1,"T":25,"h":20.4,"d":-88},{"f":1,"T":25,"h":20.65,"d":-76},{"f":1,"T":25,"h":21.0,"d":-94},{"f":1,"T":25,"h":21.3,"d":-82},{"f":1,"T":25,"h":21.7,"d":-88},{"f":1,"T":25,"h":21.95,"d":-76},{"f":1,"T":25,"h":22.25,"d":-94},{"f":1,"T":25,"h":22.5,"d":-82},{"f":1,"T":25,"h":22.8,"d":-105},{"f":1,"T":25,"h":23.2,"d":-88},{"f":1,"T":25,"h":23.45,"d":-111},{"f":1,"T":25,"h":23.75,"d":-94},{"f":1,"T":25,"h":24.0,"d":-100},{"f":1,"T":25,"h":24.3,"d":-82},{"f":1,"T":25,"h":24.65,"d":-76},{"f":1,"T":25,"h":25.0,"d":-71},{"f":1,"T":25,"h":25.4,"d":-65},{"f":1,"T":25,"h":25.8,"d":-53},{"f":1,"T":25,"h":26.15,"d":-50},{"f":1,"T":25,"h":26.5,"d":-68},{"f":1,"T":25,"h":26.9,"d":-76},{"f":1,"T":25,"h":27.35,"d":-71},{"f":1,"T":25,"h":27.8,"d":-82},{"f":1,"T":25,"h":28.35,"d":-79},{"f":1,"T":25,"h":28.9,"d":-73},{"f":1,"T":25,"h":29.5,"d":-71},{"f":1,"T":25,"h":30.0,"d":-50},{"f":1,"T":25,"h":30.5,"d":-65},{"f":1,"T":25,"h":30.95,"d":-53},{"f":1,"T":25,"h":31.4,"d":-50},{"f":1,"T":25,"h":31.9,"d":-65},{"f":1,"T":25,"h":32.35,"d":-73},{"f":1,"T":25,"h":32.8,"d":-82},{"f":1,"T":25,"h":33.3,"d":-79},{"f":1,"T":25,"h":33.75,"d":-71},{"f":1,"T":25,"h":34.2,"d":-53},{"f":1,"T":25,"h":34.8,"d":-47},{"f":1,"T":25,"h":35.3,"d":-59},{"f":1,"T":25,"h":35.9,"d":-65},{"f":1,"T":25,"h":36.4,"d":-88},{"f":1,"T":25,"h":37.0,"d":-100},{"f":1,"T":25,"h":37.6,"d":-105},{"f":1,"T":25,"h":37.9,"d":-100},{"f":1,"T":25,"h":38.3,"d":-82},{"f":1,"T":25,"h":38.7,"d":-76},{"f":1,"T":25,"h":39.1,"d":-71},{"f":1,"T":25,"h":39.6,"d":-88},{"f":1,"T":25,"h":40.1,"d":-71},{"f":1,"T":25,"h":40.6,"d":-76},{"f":1,"T":25,"h":41.0,"d":-65},{"f":1,"T":25,"h":41.5,"d":-76},{"f":1,"T":25,"h":42.1,"d":-82},{"f":1,"T":25,"h":42.6,"d":-76},{"f":1,"T":25,"h":43.1,"d":-88},{"f":1,"T":25,"h":43.5,"d":-100},{"f":1,"T":25,"h":43.85,"d":-135},{"f":1,"T":25,"h":44.2,"d":-117},{"f":1,"T":25,"h":44.7,"d":-105},{"f":1,"T":25,"h":45.05,"d":-88},{"f":1,"T":25,"h":45.4,"d":-111},{"f":1,"T":25,"h":45.8,"d":-94},{"f":1,"T":25,"h":46.2,"d":-100},{"f":1,"T":25,"h":46.55,"d":-82},{"f":1,"T":25,"h":46.9,"d":-111},{"f":1,"T":25,"h":47.3,"d":-100},{"f":1,"T":25,"h":47.7,"d":-88},{"f":1,"T":25,"h":48.05,"d":-100},{"f":1,"T":25,"h":48.4,"d":-82},{"f":1,"T":25,"h":48.8,"d":-94},{"f":1,"T":25,"h":49.1,"d":-76},{"f":1,"T":25,"h":49.55,"d":-82},{"f":1,"T":25,"h":49.9,"d":-65},{"f":1,"T":25,"h":50.3,"d":-71},{"f":1,"T":25,"h":50.7,"d":-59},{"f":1,"T":25,"h":51.05,"d":-68},{"f":1,"T":25,"h":51.4,"d":-59},{"f":1,"T":25,"h":51.8,"d":-65},{"f":1,"T":25,"h":52.2,"d":-56},{"f":1,"T":25,"h":52.55,"d":-62},{"f":1,"T":25,"h":52.9,"d":-53},{"f":1,"T":25,"h":53.3,"d":-59},{"f":1,"T":25,"h":53.7,"d":-50},{"f":1,"T":25,"h":54.05,"d":-56},{"f":1,"T":25,"h":54.4,"d":-47},{"f":1,"T":25,"h":54.8,"d":-53},{"f":1,"T":25,"h":55.1,"d":-44},{"f":1,"T":25,"h":55.35,"d":-59},
{"f":1,"T":24,"h":19.6,"d":-108},{"f":1,"T":24,"h":19.9,"d":-95},{"f":1,"T":24,"h":20.3,"d":-118},{"f":1,"T":24,"h":20.7,"d":-100},{"f":1,"T":24,"h":21.1,"d":-125},{"f":1,"T":24,"h":21.5,"d":-105},{"f":1,"T":24,"h":21.9,"d":-120},{"f":1,"T":24,"h":22.3,"d":-110},{"f":1,"T":24,"h":22.7,"d":-135},{"f":1,"T":24,"h":23.1,"d":-118},{"f":1,"T":24,"h":23.45,"d":-150},{"f":1,"T":24,"h":23.8,"d":-125},{"f":1,"T":24,"h":24.1,"d":-140},{"f":1,"T":24,"h":24.4,"d":-105},{"f":1,"T":24,"h":24.8,"d":-95},{"f":1,"T":24,"h":25.2,"d":-88},{"f":1,"T":24,"h":25.6,"d":-80},{"f":1,"T":24,"h":26.0,"d":-72},{"f":1,"T":24,"h":26.5,"d":-85},{"f":1,"T":24,"h":27.0,"d":-92},{"f":1,"T":24,"h":27.5,"d":-88},{"f":1,"T":24,"h":28.0,"d":-95},{"f":1,"T":24,"h":28.5,"d":-88},{"f":1,"T":24,"h":29.0,"d":-85},{"f":1,"T":24,"h":29.5,"d":-90},{"f":1,"T":24,"h":30.0,"d":-80},{"f":1,"T":24,"h":30.5,"d":-88},{"f":1,"T":24,"h":31.0,"d":-78},{"f":1,"T":24,"h":31.5,"d":-82},{"f":1,"T":24,"h":32.0,"d":-90},{"f":1,"T":24,"h":32.5,"d":-95},{"f":1,"T":24,"h":33.0,"d":-100},{"f":1,"T":24,"h":33.5,"d":-95},{"f":1,"T":24,"h":34.0,"d":-90},{"f":1,"T":24,"h":34.6,"d":-85},{"f":1,"T":24,"h":35.2,"d":-92},{"f":1,"T":24,"h":35.8,"d":-100},{"f":1,"T":24,"h":36.4,"d":-115},{"f":1,"T":24,"h":37.0,"d":-125},{"f":1,"T":24,"h":37.6,"d":-130},{"f":1,"T":24,"h":38.2,"d":-115},{"f":1,"T":24,"h":38.8,"d":-100},{"f":1,"T":24,"h":39.4,"d":-108},{"f":1,"T":24,"h":40.0,"d":-100},{"f":1,"T":24,"h":40.6,"d":-105},{"f":1,"T":24,"h":41.2,"d":-95},{"f":1,"T":24,"h":41.8,"d":-102},{"f":1,"T":24,"h":42.4,"d":-98},{"f":1,"T":24,"h":43.0,"d":-108},{"f":1,"T":24,"h":43.5,"d":-120},{"f":1,"T":24,"h":43.85,"d":-165},{"f":1,"T":24,"h":44.2,"d":-140},{"f":1,"T":24,"h":44.6,"d":-125},{"f":1,"T":24,"h":45.0,"d":-105},{"f":1,"T":24,"h":45.4,"d":-135},{"f":1,"T":24,"h":45.8,"d":-115},{"f":1,"T":24,"h":46.2,"d":-120},{"f":1,"T":24,"h":46.6,"d":-100},{"f":1,"T":24,"h":47.0,"d":-135},{"f":1,"T":24,"h":47.4,"d":-118},{"f":1,"T":24,"h":47.8,"d":-105},{"f":1,"T":24,"h":48.2,"d":-118},{"f":1,"T":24,"h":48.6,"d":-98},{"f":1,"T":24,"h":49.0,"d":-110},{"f":1,"T":24,"h":49.5,"d":-92},{"f":1,"T":24,"h":50.0,"d":-95},{"f":1,"T":24,"h":50.5,"d":-85},{"f":1,"T":24,"h":51.0,"d":-90},{"f":1,"T":24,"h":51.5,"d":-80},{"f":1,"T":24,"h":52.0,"d":-86},{"f":1,"T":24,"h":52.5,"d":-78},{"f":1,"T":24,"h":53.0,"d":-82},{"f":1,"T":24,"h":53.5,"d":-74},{"f":1,"T":24,"h":54.0,"d":-80},{"f":1,"T":24,"h":54.5,"d":-72},{"f":1,"T":24,"h":55.0,"d":-76},{"f":1,"T":24,"h":55.35,"d":-82},
{"f":1,"T":23,"h":19.6,"d":-117},{"f":1,"T":23,"h":20.0,"d":-125},{"f":1,"T":23,"h":20.4,"d":-140},{"f":1,"T":23,"h":20.8,"d":-115},{"f":1,"T":23,"h":21.2,"d":-150},{"f":1,"T":23,"h":21.6,"d":-125},{"f":1,"T":23,"h":22.0,"d":-140},{"f":1,"T":23,"h":22.4,"d":-130},{"f":1,"T":23,"h":22.8,"d":-165},{"f":1,"T":23,"h":23.2,"d":-135},{"f":1,"T":23,"h":23.5,"d":-200},{"f":1,"T":23,"h":23.8,"d":-150},{"f":1,"T":23,"h":24.1,"d":-165},{"f":1,"T":23,"h":24.5,"d":-125},{"f":1,"T":23,"h":24.9,"d":-110},{"f":1,"T":23,"h":25.3,"d":-102},{"f":1,"T":23,"h":25.8,"d":-95},{"f":1,"T":23,"h":26.3,"d":-90},{"f":1,"T":23,"h":26.8,"d":-100},{"f":1,"T":23,"h":27.3,"d":-108},{"f":1,"T":23,"h":27.8,"d":-103},{"f":1,"T":23,"h":28.3,"d":-110},{"f":1,"T":23,"h":28.8,"d":-102},{"f":1,"T":23,"h":29.3,"d":-98},{"f":1,"T":23,"h":29.8,"d":-105},{"f":1,"T":23,"h":30.3,"d":-95},{"f":1,"T":23,"h":30.8,"d":-100},{"f":1,"T":23,"h":31.3,"d":-92},{"f":1,"T":23,"h":31.8,"d":-98},{"f":1,"T":23,"h":32.3,"d":-105},{"f":1,"T":23,"h":32.8,"d":-110},{"f":1,"T":23,"h":33.3,"d":-112},{"f":1,"T":23,"h":33.8,"d":-106},{"f":1,"T":23,"h":34.3,"d":-100},{"f":1,"T":23,"h":34.9,"d":-98},{"f":1,"T":23,"h":35.5,"d":-108},{"f":1,"T":23,"h":36.1,"d":-120},{"f":1,"T":23,"h":36.7,"d":-132},{"f":1,"T":23,"h":37.3,"d":-140},{"f":1,"T":23,"h":37.9,"d":-138},{"f":1,"T":23,"h":38.5,"d":-122},{"f":1,"T":23,"h":39.1,"d":-112},{"f":1,"T":23,"h":39.7,"d":-120},{"f":1,"T":23,"h":40.3,"d":-110},{"f":1,"T":23,"h":40.9,"d":-118},{"f":1,"T":23,"h":41.5,"d":-108},{"f":1,"T":23,"h":42.1,"d":-115},{"f":1,"T":23,"h":42.7,"d":-110},{"f":1,"T":23,"h":43.2,"d":-122},{"f":1,"T":23,"h":43.6,"d":-135},{"f":1,"T":23,"h":43.85,"d":-200},{"f":1,"T":23,"h":44.2,"d":-160},{"f":1,"T":23,"h":44.6,"d":-140},{"f":1,"T":23,"h":45.0,"d":-120},{"f":1,"T":23,"h":45.4,"d":-160},{"f":1,"T":23,"h":45.8,"d":-130},{"f":1,"T":23,"h":46.2,"d":-135},{"f":1,"T":23,"h":46.6,"d":-115},{"f":1,"T":23,"h":47.0,"d":-160},{"f":1,"T":23,"h":47.4,"d":-130},{"f":1,"T":23,"h":47.8,"d":-118},{"f":1,"T":23,"h":48.2,"d":-135},{"f":1,"T":23,"h":48.6,"d":-112},{"f":1,"T":23,"h":49.0,"d":-125},{"f":1,"T":23,"h":49.5,"d":-108},{"f":1,"T":23,"h":50.0,"d":-112},{"f":1,"T":23,"h":50.5,"d":-100},{"f":1,"T":23,"h":51.0,"d":-106},{"f":1,"T":23,"h":51.5,"d":-96},{"f":1,"T":23,"h":52.0,"d":-102},{"f":1,"T":23,"h":52.5,"d":-94},{"f":1,"T":23,"h":53.0,"d":-98},{"f":1,"T":23,"h":53.5,"d":-90},{"f":1,"T":23,"h":54.0,"d":-96},{"f":1,"T":23,"h":54.5,"d":-88},{"f":1,"T":23,"h":55.0,"d":-92},{"f":1,"T":23,"h":55.35,"d":-100},
{"f":1,"T":22,"h":19.6,"d":-129},{"f":1,"T":22,"h":20.0,"d":-138},{"f":1,"T":22,"h":20.4,"d":-160},{"f":1,"T":22,"h":20.8,"d":-130},{"f":1,"T":22,"h":21.2,"d":-175},{"f":1,"T":22,"h":21.6,"d":-140},{"f":1,"T":22,"h":22.0,"d":-160},{"f":1,"T":22,"h":22.4,"d":-145},{"f":1,"T":22,"h":22.8,"d":-190},{"f":1,"T":22,"h":23.2,"d":-150},{"f":1,"T":22,"h":23.5,"d":-230},{"f":1,"T":22,"h":23.8,"d":-170},{"f":1,"T":22,"h":24.1,"d":-185},{"f":1,"T":22,"h":24.5,"d":-140},{"f":1,"T":22,"h":24.9,"d":-125},{"f":1,"T":22,"h":25.3,"d":-118},{"f":1,"T":22,"h":25.8,"d":-110},{"f":1,"T":22,"h":26.3,"d":-105},{"f":1,"T":22,"h":26.8,"d":-115},{"f":1,"T":22,"h":27.3,"d":-122},{"f":1,"T":22,"h":27.8,"d":-118},{"f":1,"T":22,"h":28.3,"d":-125},{"f":1,"T":22,"h":28.8,"d":-116},{"f":1,"T":22,"h":29.3,"d":-112},{"f":1,"T":22,"h":29.8,"d":-120},{"f":1,"T":22,"h":30.3,"d":-108},{"f":1,"T":22,"h":30.8,"d":-114},{"f":1,"T":22,"h":31.3,"d":-106},{"f":1,"T":22,"h":31.8,"d":-112},{"f":1,"T":22,"h":32.3,"d":-118},{"f":1,"T":22,"h":32.8,"d":-124},{"f":1,"T":22,"h":33.3,"d":-126},{"f":1,"T":22,"h":33.8,"d":-120},{"f":1,"T":22,"h":34.3,"d":-115},{"f":1,"T":22,"h":34.9,"d":-112},{"f":1,"T":22,"h":35.5,"d":-122},{"f":1,"T":22,"h":36.1,"d":-135},{"f":1,"T":22,"h":36.7,"d":-148},{"f":1,"T":22,"h":37.3,"d":-155},{"f":1,"T":22,"h":37.9,"d":-152},{"f":1,"T":22,"h":38.5,"d":-138},{"f":1,"T":22,"h":39.1,"d":-126},{"f":1,"T":22,"h":39.7,"d":-135},{"f":1,"T":22,"h":40.3,"d":-124},{"f":1,"T":22,"h":40.9,"d":-132},{"f":1,"T":22,"h":41.5,"d":-122},{"f":1,"T":22,"h":42.1,"d":-130},{"f":1,"T":22,"h":42.7,"d":-124},{"f":1,"T":22,"h":43.2,"d":-138},{"f":1,"T":22,"h":43.6,"d":-150},{"f":1,"T":22,"h":43.85,"d":-225},{"f":1,"T":22,"h":44.2,"d":-180},{"f":1,"T":22,"h":44.6,"d":-158},{"f":1,"T":22,"h":45.0,"d":-135},{"f":1,"T":22,"h":45.4,"d":-185},{"f":1,"T":22,"h":45.8,"d":-148},{"f":1,"T":22,"h":46.2,"d":-152},{"f":1,"T":22,"h":46.6,"d":-130},{"f":1,"T":22,"h":47.0,"d":-185},{"f":1,"T":22,"h":47.4,"d":-148},{"f":1,"T":22,"h":47.8,"d":-134},{"f":1,"T":22,"h":48.2,"d":-152},{"f":1,"T":22,"h":48.6,"d":-128},{"f":1,"T":22,"h":49.0,"d":-142},{"f":1,"T":22,"h":49.5,"d":-124},{"f":1,"T":22,"h":50.0,"d":-128},{"f":1,"T":22,"h":50.5,"d":-116},{"f":1,"T":22,"h":51.0,"d":-122},{"f":1,"T":22,"h":51.5,"d":-112},{"f":1,"T":22,"h":52.0,"d":-118},{"f":1,"T":22,"h":52.5,"d":-110},{"f":1,"T":22,"h":53.0,"d":-114},{"f":1,"T":22,"h":53.5,"d":-106},{"f":1,"T":22,"h":54.0,"d":-112},{"f":1,"T":22,"h":54.5,"d":-104},{"f":1,"T":22,"h":55.0,"d":-108},{"f":1,"T":22,"h":55.35,"d":-117},
{"f":1,"T":20,"h":19.6,"d":-143},{"f":1,"T":20,"h":20.0,"d":-155},{"f":1,"T":20,"h":20.4,"d":-185},{"f":1,"T":20,"h":20.8,"d":-150},{"f":1,"T":20,"h":21.2,"d":-200},{"f":1,"T":20,"h":21.6,"d":-160},{"f":1,"T":20,"h":22.0,"d":-180},{"f":1,"T":20,"h":22.4,"d":-165},{"f":1,"T":20,"h":22.8,"d":-215},{"f":1,"T":20,"h":23.2,"d":-170},{"f":1,"T":20,"h":23.5,"d":-255},{"f":1,"T":20,"h":23.8,"d":-190},{"f":1,"T":20,"h":24.1,"d":-205},{"f":1,"T":20,"h":24.5,"d":-160},{"f":1,"T":20,"h":24.9,"d":-142},{"f":1,"T":20,"h":25.3,"d":-135},{"f":1,"T":20,"h":25.8,"d":-128},{"f":1,"T":20,"h":26.3,"d":-122},{"f":1,"T":20,"h":26.8,"d":-132},{"f":1,"T":20,"h":27.3,"d":-140},{"f":1,"T":20,"h":27.8,"d":-135},{"f":1,"T":20,"h":28.3,"d":-142},{"f":1,"T":20,"h":28.8,"d":-133},{"f":1,"T":20,"h":29.3,"d":-128},{"f":1,"T":20,"h":29.8,"d":-137},{"f":1,"T":20,"h":30.3,"d":-125},{"f":1,"T":20,"h":30.8,"d":-130},{"f":1,"T":20,"h":31.3,"d":-122},{"f":1,"T":20,"h":31.8,"d":-128},{"f":1,"T":20,"h":32.3,"d":-135},{"f":1,"T":20,"h":32.8,"d":-140},{"f":1,"T":20,"h":33.3,"d":-142},{"f":1,"T":20,"h":33.8,"d":-136},{"f":1,"T":20,"h":34.3,"d":-132},{"f":1,"T":20,"h":34.9,"d":-128},{"f":1,"T":20,"h":35.5,"d":-140},{"f":1,"T":20,"h":36.1,"d":-152},{"f":1,"T":20,"h":36.7,"d":-165},{"f":1,"T":20,"h":37.3,"d":-172},{"f":1,"T":20,"h":37.9,"d":-170},{"f":1,"T":20,"h":38.5,"d":-155},{"f":1,"T":20,"h":39.1,"d":-142},{"f":1,"T":20,"h":39.7,"d":-150},{"f":1,"T":20,"h":40.3,"d":-140},{"f":1,"T":20,"h":40.9,"d":-148},{"f":1,"T":20,"h":41.5,"d":-138},{"f":1,"T":20,"h":42.1,"d":-146},{"f":1,"T":20,"h":42.7,"d":-140},{"f":1,"T":20,"h":43.2,"d":-155},{"f":1,"T":20,"h":43.6,"d":-170},{"f":1,"T":20,"h":43.85,"d":-250},{"f":1,"T":20,"h":44.2,"d":-200},{"f":1,"T":20,"h":44.6,"d":-175},{"f":1,"T":20,"h":45.0,"d":-152},{"f":1,"T":20,"h":45.4,"d":-210},{"f":1,"T":20,"h":45.8,"d":-165},{"f":1,"T":20,"h":46.2,"d":-170},{"f":1,"T":20,"h":46.6,"d":-148},{"f":1,"T":20,"h":47.0,"d":-210},{"f":1,"T":20,"h":47.4,"d":-166},{"f":1,"T":20,"h":47.8,"d":-150},{"f":1,"T":20,"h":48.2,"d":-170},{"f":1,"T":20,"h":48.6,"d":-145},{"f":1,"T":20,"h":49.0,"d":-160},{"f":1,"T":20,"h":49.5,"d":-140},{"f":1,"T":20,"h":50.0,"d":-145},{"f":1,"T":20,"h":50.5,"d":-132},{"f":1,"T":20,"h":51.0,"d":-138},{"f":1,"T":20,"h":51.5,"d":-128},{"f":1,"T":20,"h":52.0,"d":-134},{"f":1,"T":20,"h":52.5,"d":-126},{"f":1,"T":20,"h":53.0,"d":-130},{"f":1,"T":20,"h":53.5,"d":-122},{"f":1,"T":20,"h":54.0,"d":-128},{"f":1,"T":20,"h":54.5,"d":-120},{"f":1,"T":20,"h":55.0,"d":-124},{"f":1,"T":20,"h":55.35,"d":-135},
{"f":1,"T":18,"h":19.6,"d":-158},{"f":1,"T":18,"h":20.0,"d":-172},{"f":1,"T":18,"h":20.4,"d":-205},{"f":1,"T":18,"h":20.8,"d":-168},{"f":1,"T":18,"h":21.2,"d":-222},{"f":1,"T":18,"h":21.6,"d":-180},{"f":1,"T":18,"h":22.0,"d":-200},{"f":1,"T":18,"h":22.4,"d":-185},{"f":1,"T":18,"h":22.8,"d":-232},{"f":1,"T":18,"h":23.2,"d":-190},{"f":1,"T":18,"h":23.5,"d":-265},{"f":1,"T":18,"h":23.8,"d":-212},{"f":1,"T":18,"h":24.1,"d":-222},{"f":1,"T":18,"h":24.5,"d":-178},{"f":1,"T":18,"h":24.9,"d":-160},{"f":1,"T":18,"h":25.3,"d":-150},{"f":1,"T":18,"h":25.8,"d":-145},{"f":1,"T":18,"h":26.3,"d":-140},{"f":1,"T":18,"h":26.8,"d":-152},{"f":1,"T":18,"h":27.3,"d":-155},{"f":1,"T":18,"h":27.8,"d":-148},{"f":1,"T":18,"h":28.3,"d":-152},{"f":1,"T":18,"h":28.8,"d":-145},{"f":1,"T":18,"h":29.3,"d":-142},{"f":1,"T":18,"h":29.8,"d":-150},{"f":1,"T":18,"h":30.3,"d":-140},{"f":1,"T":18,"h":30.8,"d":-144},{"f":1,"T":18,"h":31.3,"d":-136},{"f":1,"T":18,"h":31.8,"d":-145},{"f":1,"T":18,"h":32.3,"d":-148},{"f":1,"T":18,"h":32.8,"d":-152},{"f":1,"T":18,"h":33.3,"d":-150},{"f":1,"T":18,"h":33.8,"d":-155},{"f":1,"T":18,"h":34.3,"d":-150},{"f":1,"T":18,"h":34.9,"d":-155},{"f":1,"T":18,"h":35.5,"d":-168},{"f":1,"T":18,"h":36.1,"d":-175},{"f":1,"T":18,"h":36.7,"d":-188},{"f":1,"T":18,"h":37.3,"d":-195},{"f":1,"T":18,"h":37.9,"d":-192},{"f":1,"T":18,"h":38.5,"d":-178},{"f":1,"T":18,"h":39.1,"d":-165},{"f":1,"T":18,"h":39.7,"d":-175},{"f":1,"T":18,"h":40.3,"d":-162},{"f":1,"T":18,"h":40.9,"d":-168},{"f":1,"T":18,"h":41.5,"d":-160},{"f":1,"T":18,"h":42.1,"d":-166},{"f":1,"T":18,"h":42.7,"d":-160},{"f":1,"T":18,"h":43.2,"d":-175},{"f":1,"T":18,"h":43.6,"d":-190},{"f":1,"T":18,"h":43.85,"d":-258},{"f":1,"T":18,"h":44.2,"d":-220},{"f":1,"T":18,"h":44.6,"d":-200},{"f":1,"T":18,"h":45.0,"d":-175},{"f":1,"T":18,"h":45.4,"d":-232},{"f":1,"T":18,"h":45.8,"d":-190},{"f":1,"T":18,"h":46.2,"d":-188},{"f":1,"T":18,"h":46.6,"d":-170},{"f":1,"T":18,"h":47.0,"d":-228},{"f":1,"T":18,"h":47.4,"d":-185},{"f":1,"T":18,"h":47.8,"d":-172},{"f":1,"T":18,"h":48.2,"d":-186},{"f":1,"T":18,"h":48.6,"d":-165},{"f":1,"T":18,"h":49.0,"d":-180},{"f":1,"T":18,"h":49.5,"d":-160},{"f":1,"T":18,"h":50.0,"d":-162},{"f":1,"T":18,"h":50.5,"d":-150},{"f":1,"T":18,"h":51.0,"d":-155},{"f":1,"T":18,"h":51.5,"d":-145},{"f":1,"T":18,"h":52.0,"d":-150},{"f":1,"T":18,"h":52.5,"d":-140},{"f":1,"T":18,"h":53.0,"d":-146},{"f":1,"T":18,"h":53.5,"d":-138},{"f":1,"T":18,"h":54.0,"d":-142},{"f":1,"T":18,"h":54.5,"d":-135},{"f":1,"T":18,"h":55.0,"d":-140},{"f":1,"T":18,"h":55.35,"d":-150},
{"f":1,"T":17,"h":19.6,"d":-210},{"f":1,"T":17,"h":19.8,"d":-193},{"f":1,"T":17,"h":20.1,"d":-216},{"f":1,"T":17,"h":20.4,"d":-234},{"f":1,"T":17,"h":20.65,"d":-210},{"f":1,"T":17,"h":20.95,"d":-205},{"f":1,"T":17,"h":21.2,"d":-245},{"f":1,"T":17,"h":21.5,"d":-216},{"f":1,"T":17,"h":21.8,"d":-207},{"f":1,"T":17,"h":22.1,"d":-234},{"f":1,"T":17,"h":22.35,"d":-205},{"f":1,"T":17,"h":22.7,"d":-240},{"f":1,"T":17,"h":23.0,"d":-210},{"f":1,"T":17,"h":23.3,"d":-234},{"f":1,"T":17,"h":23.55,"d":-222},{"f":1,"T":17,"h":23.8,"d":-245},{"f":1,"T":17,"h":24.0,"d":-205},{"f":1,"T":17,"h":24.3,"d":-216},{"f":1,"T":17,"h":24.55,"d":-193},{"f":1,"T":17,"h":24.9,"d":-181},{"f":1,"T":17,"h":25.2,"d":-193},{"f":1,"T":17,"h":25.6,"d":-170},{"f":1,"T":17,"h":25.95,"d":-164},{"f":1,"T":17,"h":26.4,"d":-158},{"f":1,"T":17,"h":26.9,"d":-175},{"f":1,"T":17,"h":27.35,"d":-170},{"f":1,"T":17,"h":27.8,"d":-158},{"f":1,"T":17,"h":28.3,"d":-164},{"f":1,"T":17,"h":28.7,"d":-155},{"f":1,"T":17,"h":29.3,"d":-164},{"f":1,"T":17,"h":29.7,"d":-161},{"f":1,"T":17,"h":30.0,"d":-167},{"f":1,"T":17,"h":30.5,"d":-155},{"f":1,"T":17,"h":30.95,"d":-158},{"f":1,"T":17,"h":31.4,"d":-149},{"f":1,"T":17,"h":31.9,"d":-161},{"f":1,"T":17,"h":32.35,"d":-155},{"f":1,"T":17,"h":32.8,"d":-164},{"f":1,"T":17,"h":33.4,"d":-158},{"f":1,"T":17,"h":33.75,"d":-170},{"f":1,"T":17,"h":34.2,"d":-170},{"f":1,"T":17,"h":34.8,"d":-181},{"f":1,"T":17,"h":35.3,"d":-187},{"f":1,"T":17,"h":35.7,"d":-205},{"f":1,"T":17,"h":36.1,"d":-199},{"f":1,"T":17,"h":36.6,"d":-210},{"f":1,"T":17,"h":37.1,"d":-216},{"f":1,"T":17,"h":37.6,"d":-234},{"f":1,"T":17,"h":37.9,"d":-228},{"f":1,"T":17,"h":38.3,"d":-216},{"f":1,"T":17,"h":38.7,"d":-199},{"f":1,"T":17,"h":39.1,"d":-187},{"f":1,"T":17,"h":39.45,"d":-205},{"f":1,"T":17,"h":39.8,"d":-193},{"f":1,"T":17,"h":40.2,"d":-181},{"f":1,"T":17,"h":40.6,"d":-199},{"f":1,"T":17,"h":40.9,"d":-181},{"f":1,"T":17,"h":41.3,"d":-193},{"f":1,"T":17,"h":41.7,"d":-181},{"f":1,"T":17,"h":42.1,"d":-187},{"f":1,"T":17,"h":42.6,"d":-181},{"f":1,"T":17,"h":43.0,"d":-193},{"f":1,"T":17,"h":43.4,"d":-205},{"f":1,"T":17,"h":43.75,"d":-263},{"f":1,"T":17,"h":44.1,"d":-240},{"f":1,"T":17,"h":44.4,"d":-228},{"f":1,"T":17,"h":44.7,"d":-193},{"f":1,"T":17,"h":45.05,"d":-216},{"f":1,"T":17,"h":45.35,"d":-251},{"f":1,"T":17,"h":45.7,"d":-228},{"f":1,"T":17,"h":46.0,"d":-199},{"f":1,"T":17,"h":46.4,"d":-216},{"f":1,"T":17,"h":46.65,"d":-205},{"f":1,"T":17,"h":47.0,"d":-240},{"f":1,"T":17,"h":47.3,"d":-210},{"f":1,"T":17,"h":47.6,"d":-199},{"f":1,"T":17,"h":47.95,"d":-205},{"f":1,"T":17,"h":48.35,"d":-193},{"f":1,"T":17,"h":48.6,"d":-228},{"f":1,"T":17,"h":48.9,"d":-205},{"f":1,"T":17,"h":49.3,"d":-199},{"f":1,"T":17,"h":49.55,"d":-181},{"f":1,"T":17,"h":49.9,"d":-187},{"f":1,"T":17,"h":50.3,"d":-170},{"f":1,"T":17,"h":50.7,"d":-175},{"f":1,"T":17,"h":51.0,"d":-158},{"f":1,"T":17,"h":51.4,"d":-164},{"f":1,"T":17,"h":51.8,"d":-152},{"f":1,"T":17,"h":52.2,"d":-158},{"f":1,"T":17,"h":52.55,"d":-149},{"f":1,"T":17,"h":52.9,"d":-155},{"f":1,"T":17,"h":53.3,"d":-146},{"f":1,"T":17,"h":53.7,"d":-149},{"f":1,"T":17,"h":54.05,"d":-140},{"f":1,"T":17,"h":54.4,"d":-149},{"f":1,"T":17,"h":54.8,"d":-135},{"f":1,"T":17,"h":55.1,"d":-123},{"f":1,"T":17,"h":55.3,"d":-146},{"f":1,"T":17,"h":55.35,"d":-164},
{"f":1,"T":15,"h":19.6,"d":-254},{"f":1,"T":15,"h":19.8,"d":-245},{"f":1,"T":15,"h":20.1,"d":-274},{"f":1,"T":15,"h":20.4,"d":-292},{"f":1,"T":15,"h":20.65,"d":-269},{"f":1,"T":15,"h":20.95,"d":-263},{"f":1,"T":15,"h":21.2,"d":-304},{"f":1,"T":15,"h":21.5,"d":-269},{"f":1,"T":15,"h":21.7,"d":-263},{"f":1,"T":15,"h":21.95,"d":-286},{"f":1,"T":15,"h":22.25,"d":-269},{"f":1,"T":15,"h":22.5,"d":-298},{"f":1,"T":15,"h":22.8,"d":-266},{"f":1,"T":15,"h":23.1,"d":-286},{"f":1,"T":15,"h":23.35,"d":-266},{"f":1,"T":15,"h":23.6,"d":-274},{"f":1,"T":15,"h":23.9,"d":-298},{"f":1,"T":15,"h":24.1,"d":-251},{"f":1,"T":15,"h":24.4,"d":-257},{"f":1,"T":15,"h":24.65,"d":-240},{"f":1,"T":15,"h":25.0,"d":-234},{"f":1,"T":15,"h":25.4,"d":-216},{"f":1,"T":15,"h":25.8,"d":-213},{"f":1,"T":15,"h":26.15,"d":-222},{"f":1,"T":15,"h":26.5,"d":-219},{"f":1,"T":15,"h":27.1,"d":-225},{"f":1,"T":15,"h":27.6,"d":-219},{"f":1,"T":15,"h":28.2,"d":-228},{"f":1,"T":15,"h":28.7,"d":-222},{"f":1,"T":15,"h":29.3,"d":-219},{"f":1,"T":15,"h":29.7,"d":-231},{"f":1,"T":15,"h":30.0,"d":-234},{"f":1,"T":15,"h":30.4,"d":-219},{"f":1,"T":15,"h":30.8,"d":-216},{"f":1,"T":15,"h":31.15,"d":-228},{"f":1,"T":15,"h":31.5,"d":-219},{"f":1,"T":15,"h":31.9,"d":-213},{"f":1,"T":15,"h":32.25,"d":-225},{"f":1,"T":15,"h":32.65,"d":-222},{"f":1,"T":15,"h":33.2,"d":-228},{"f":1,"T":15,"h":33.65,"d":-231},{"f":1,"T":15,"h":34.2,"d":-222},{"f":1,"T":15,"h":34.8,"d":-240},{"f":1,"T":15,"h":35.1,"d":-234},{"f":1,"T":15,"h":35.5,"d":-251},{"f":1,"T":15,"h":35.9,"d":-245},{"f":1,"T":15,"h":36.3,"d":-257},{"f":1,"T":15,"h":36.8,"d":-263},{"f":1,"T":15,"h":37.2,"d":-269},{"f":1,"T":15,"h":37.6,"d":-277},{"f":1,"T":15,"h":37.9,"d":-272},{"f":1,"T":15,"h":38.3,"d":-263},{"f":1,"T":15,"h":38.7,"d":-257},{"f":1,"T":15,"h":39.1,"d":-251},{"f":1,"T":15,"h":39.45,"d":-263},{"f":1,"T":15,"h":39.8,"d":-251},{"f":1,"T":15,"h":40.3,"d":-234},{"f":1,"T":15,"h":40.6,"d":-260},{"f":1,"T":15,"h":40.85,"d":-242},{"f":1,"T":15,"h":41.2,"d":-251},{"f":1,"T":15,"h":41.6,"d":-234},{"f":1,"T":15,"h":42.0,"d":-245},{"f":1,"T":15,"h":42.4,"d":-240},{"f":1,"T":15,"h":42.8,"d":-245},{"f":1,"T":15,"h":43.2,"d":-257},{"f":1,"T":15,"h":43.6,"d":-263},{"f":1,"T":15,"h":43.85,"d":-321},{"f":1,"T":15,"h":44.1,"d":-298},{"f":1,"T":15,"h":44.4,"d":-280},{"f":1,"T":15,"h":44.7,"d":-251},{"f":1,"T":15,"h":45.05,"d":-274},{"f":1,"T":15,"h":45.4,"d":-321},{"f":1,"T":15,"h":45.7,"d":-286},{"f":1,"T":15,"h":46.0,"d":-274},{"f":1,"T":15,"h":46.4,"d":-298},{"f":1,"T":15,"h":46.65,"d":-280},{"f":1,"T":15,"h":47.0,"d":-321},{"f":1,"T":15,"h":47.3,"d":-286},{"f":1,"T":15,"h":47.6,"d":-263},{"f":1,"T":15,"h":47.95,"d":-280},{"f":1,"T":15,"h":48.35,"d":-263},{"f":1,"T":15,"h":48.6,"d":-298},{"f":1,"T":15,"h":48.9,"d":-274},{"f":1,"T":15,"h":49.3,"d":-280},{"f":1,"T":15,"h":49.55,"d":-251},{"f":1,"T":15,"h":49.9,"d":-260},{"f":1,"T":15,"h":50.3,"d":-240},{"f":1,"T":15,"h":50.6,"d":-242},{"f":1,"T":15,"h":50.85,"d":-228},{"f":1,"T":15,"h":51.1,"d":-240},{"f":1,"T":15,"h":51.5,"d":-222},{"f":1,"T":15,"h":51.9,"d":-228},{"f":1,"T":15,"h":52.2,"d":-216},{"f":1,"T":15,"h":52.55,"d":-222},{"f":1,"T":15,"h":52.9,"d":-210},{"f":1,"T":15,"h":53.3,"d":-216},{"f":1,"T":15,"h":53.7,"d":-205},{"f":1,"T":15,"h":54.05,"d":-210},{"f":1,"T":15,"h":54.4,"d":-199},{"f":1,"T":15,"h":54.7,"d":-210},{"f":1,"T":15,"h":55.0,"d":-193},{"f":1,"T":15,"h":55.2,"d":-210},{"f":1,"T":15,"h":55.35,"d":-222},
{"f":1,"T":13,"h":19.6,"d":-333},{"f":1,"T":13,"h":19.75,"d":-312},{"f":1,"T":13,"h":20.0,"d":-333},{"f":1,"T":13,"h":20.3,"d":-368},{"f":1,"T":13,"h":20.6,"d":-374},{"f":1,"T":13,"h":20.95,"d":-339},{"f":1,"T":13,"h":21.2,"d":-391},{"f":1,"T":13,"h":21.5,"d":-356},{"f":1,"T":13,"h":21.8,"d":-391},{"f":1,"T":13,"h":22.15,"d":-368},{"f":1,"T":13,"h":22.4,"d":-344},{"f":1,"T":13,"h":22.7,"d":-368},{"f":1,"T":13,"h":23.0,"d":-333},{"f":1,"T":13,"h":23.3,"d":-356},{"f":1,"T":13,"h":23.55,"d":-327},{"f":1,"T":13,"h":23.8,"d":-350},{"f":1,"T":13,"h":24.0,"d":-371},{"f":1,"T":13,"h":24.2,"d":-321},{"f":1,"T":13,"h":24.55,"d":-333},{"f":1,"T":13,"h":24.85,"d":-309},{"f":1,"T":13,"h":25.1,"d":-336},{"f":1,"T":13,"h":25.4,"d":-321},{"f":1,"T":13,"h":25.7,"d":-286},{"f":1,"T":13,"h":25.95,"d":-298},{"f":1,"T":13,"h":26.3,"d":-292},{"f":1,"T":13,"h":26.9,"d":-304},{"f":1,"T":13,"h":27.45,"d":-298},{"f":1,"T":13,"h":28.0,"d":-304},{"f":1,"T":13,"h":28.55,"d":-298},{"f":1,"T":13,"h":29.1,"d":-304},{"f":1,"T":13,"h":29.7,"d":-298},{"f":1,"T":13,"h":30.2,"d":-304},{"f":1,"T":13,"h":30.7,"d":-292},{"f":1,"T":13,"h":31.05,"d":-312},{"f":1,"T":13,"h":31.5,"d":-298},{"f":1,"T":13,"h":31.9,"d":-286},{"f":1,"T":13,"h":32.25,"d":-309},{"f":1,"T":13,"h":32.65,"d":-315},{"f":1,"T":13,"h":33.2,"d":-321},{"f":1,"T":13,"h":33.55,"d":-327},{"f":1,"T":13,"h":33.85,"d":-304},{"f":1,"T":13,"h":34.1,"d":-330},{"f":1,"T":13,"h":34.4,"d":-327},{"f":1,"T":13,"h":34.8,"d":-333},{"f":1,"T":13,"h":35.1,"d":-327},{"f":1,"T":13,"h":35.5,"d":-336},{"f":1,"T":13,"h":36.1,"d":-333},{"f":1,"T":13,"h":36.6,"d":-339},{"f":1,"T":13,"h":37.2,"d":-341},{"f":1,"T":13,"h":37.6,"d":-344},{"f":1,"T":13,"h":37.9,"d":-333},{"f":1,"T":13,"h":38.3,"d":-341},{"f":1,"T":13,"h":38.7,"d":-336},{"f":1,"T":13,"h":39.1,"d":-333},{"f":1,"T":13,"h":39.45,"d":-321},{"f":1,"T":13,"h":39.8,"d":-333},{"f":1,"T":13,"h":40.3,"d":-315},{"f":1,"T":13,"h":40.6,"d":-333},{"f":1,"T":13,"h":40.9,"d":-315},{"f":1,"T":13,"h":41.3,"d":-327},{"f":1,"T":13,"h":41.9,"d":-321},{"f":1,"T":13,"h":42.4,"d":-315},{"f":1,"T":13,"h":43.0,"d":-327},{"f":1,"T":13,"h":43.4,"d":-333},{"f":1,"T":13,"h":43.75,"d":-403},{"f":1,"T":13,"h":44.1,"d":-344},{"f":1,"T":13,"h":44.5,"d":-344},{"f":1,"T":13,"h":44.8,"d":-368},{"f":1,"T":13,"h":45.15,"d":-391},{"f":1,"T":13,"h":45.4,"d":-333},{"f":1,"T":13,"h":45.7,"d":-327},{"f":1,"T":13,"h":46.0,"d":-379},{"f":1,"T":13,"h":46.3,"d":-391},{"f":1,"T":13,"h":46.55,"d":-344},{"f":1,"T":13,"h":46.8,"d":-339},{"f":1,"T":13,"h":47.1,"d":-397},{"f":1,"T":13,"h":47.5,"d":-344},{"f":1,"T":13,"h":47.9,"d":-333},{"f":1,"T":13,"h":48.15,"d":-374},{"f":1,"T":13,"h":48.4,"d":-350},{"f":1,"T":13,"h":48.7,"d":-344},{"f":1,"T":13,"h":49.0,"d":-333},{"f":1,"T":13,"h":49.4,"d":-327},{"f":1,"T":13,"h":49.7,"d":-321},{"f":1,"T":13,"h":50.1,"d":-309},{"f":1,"T":13,"h":50.5,"d":-304},{"f":1,"T":13,"h":50.85,"d":-309},{"f":1,"T":13,"h":51.1,"d":-286},{"f":1,"T":13,"h":51.4,"d":-298},{"f":1,"T":13,"h":51.8,"d":-292},{"f":1,"T":13,"h":52.1,"d":-280},{"f":1,"T":13,"h":52.4,"d":-298},{"f":1,"T":13,"h":52.7,"d":-283},{"f":1,"T":13,"h":53.1,"d":-292},{"f":1,"T":13,"h":53.5,"d":-286},{"f":1,"T":13,"h":53.9,"d":-298},{"f":1,"T":13,"h":54.2,"d":-286},{"f":1,"T":13,"h":54.6,"d":-292},{"f":1,"T":13,"h":54.9,"d":-263},{"f":1,"T":13,"h":55.2,"d":-274},{"f":1,"T":13,"h":55.35,"d":-289},
{"f":1,"T":11,"h":19.6,"d":-435},{"f":1,"T":11,"h":19.75,"d":-420},{"f":1,"T":11,"h":19.9,"d":-429},{"f":1,"T":11,"h":20.2,"d":-500},{"f":1,"T":11,"h":20.5,"d":-500},{"f":1,"T":11,"h":20.7,"d":-478},{"f":1,"T":11,"h":20.85,"d":-464},{"f":1,"T":11,"h":21.0,"d":-500},{"f":1,"T":11,"h":21.3,"d":-500},{"f":1,"T":11,"h":21.5,"d":-446},{"f":1,"T":11,"h":21.7,"d":-500},{"f":1,"T":11,"h":21.9,"d":-500},{"f":1,"T":11,"h":22.15,"d":-455},{"f":1,"T":11,"h":22.35,"d":-473},{"f":1,"T":11,"h":22.5,"d":-438},{"f":1,"T":11,"h":22.8,"d":-470},{"f":1,"T":11,"h":23.1,"d":-435},{"f":1,"T":11,"h":23.3,"d":-461},{"f":1,"T":11,"h":23.55,"d":-432},{"f":1,"T":11,"h":23.8,"d":-458},{"f":1,"T":11,"h":24.0,"d":-438},{"f":1,"T":11,"h":24.3,"d":-473},{"f":1,"T":11,"h":24.55,"d":-432},{"f":1,"T":11,"h":24.85,"d":-438},{"f":1,"T":11,"h":25.1,"d":-423},{"f":1,"T":11,"h":25.4,"d":-438},{"f":1,"T":11,"h":25.7,"d":-432},{"f":1,"T":11,"h":25.95,"d":-438},{"f":1,"T":11,"h":26.3,"d":-432},{"f":1,"T":11,"h":26.7,"d":-438},{"f":1,"T":11,"h":27.2,"d":-426},{"f":1,"T":11,"h":27.55,"d":-411},{"f":1,"T":11,"h":27.8,"d":-406},{"f":1,"T":11,"h":28.2,"d":-385},{"f":1,"T":11,"h":28.5,"d":-400},{"f":1,"T":11,"h":28.75,"d":-388},{"f":1,"T":11,"h":29.0,"d":-403},{"f":1,"T":11,"h":29.4,"d":-391},{"f":1,"T":11,"h":29.7,"d":-391},{"f":1,"T":11,"h":30.0,"d":-397},{"f":1,"T":11,"h":30.5,"d":-414},{"f":1,"T":11,"h":30.95,"d":-423},{"f":1,"T":11,"h":31.4,"d":-409},{"f":1,"T":11,"h":31.9,"d":-426},{"f":1,"T":11,"h":32.25,"d":-417},{"f":1,"T":11,"h":32.7,"d":-432},{"f":1,"T":11,"h":33.2,"d":-426},{"f":1,"T":11,"h":33.55,"d":-432},{"f":1,"T":11,"h":34.0,"d":-449},{"f":1,"T":11,"h":34.2,"d":-432},{"f":1,"T":11,"h":34.6,"d":-438},{"f":1,"T":11,"h":34.95,"d":-461},{"f":1,"T":11,"h":35.3,"d":-467},{"f":1,"T":11,"h":35.7,"d":-449},{"f":1,"T":11,"h":36.1,"d":-449},{"f":1,"T":11,"h":36.4,"d":-438},{"f":1,"T":11,"h":36.9,"d":-435},{"f":1,"T":11,"h":37.2,"d":-432},{"f":1,"T":11,"h":37.6,"d":-443},{"f":1,"T":11,"h":37.9,"d":-449},{"f":1,"T":11,"h":38.2,"d":-461},{"f":1,"T":11,"h":38.5,"d":-443},{"f":1,"T":11,"h":38.9,"d":-438},{"f":1,"T":11,"h":39.25,"d":-443},{"f":1,"T":11,"h":39.8,"d":-438},{"f":1,"T":11,"h":40.2,"d":-432},{"f":1,"T":11,"h":40.6,"d":-443},{"f":1,"T":11,"h":40.9,"d":-435},{"f":1,"T":11,"h":41.3,"d":-441},{"f":1,"T":11,"h":41.9,"d":-438},{"f":1,"T":11,"h":42.4,"d":-441},{"f":1,"T":11,"h":43.0,"d":-438},{"f":1,"T":11,"h":43.3,"d":-435},{"f":1,"T":11,"h":43.6,"d":-449},{"f":1,"T":11,"h":43.75,"d":-500},{"f":1,"T":11,"h":44.0,"d":-500},{"f":1,"T":11,"h":44.3,"d":-438},{"f":1,"T":11,"h":44.6,"d":-426},{"f":1,"T":11,"h":44.9,"d":-500},{"f":1,"T":11,"h":45.15,"d":-500},{"f":1,"T":11,"h":45.4,"d":-438},{"f":1,"T":11,"h":45.7,"d":-429},{"f":1,"T":11,"h":46.0,"d":-500},{"f":1,"T":11,"h":46.2,"d":-500},{"f":1,"T":11,"h":46.4,"d":-449},{"f":1,"T":11,"h":46.65,"d":-432},{"f":1,"T":11,"h":46.9,"d":-476},{"f":1,"T":11,"h":47.2,"d":-438},{"f":1,"T":11,"h":47.5,"d":-426},{"f":1,"T":11,"h":47.8,"d":-449},{"f":1,"T":11,"h":48.05,"d":-432},{"f":1,"T":11,"h":48.4,"d":-438},{"f":1,"T":11,"h":48.8,"d":-426},{"f":1,"T":11,"h":49.2,"d":-420},{"f":1,"T":11,"h":49.55,"d":-423},{"f":1,"T":11,"h":49.9,"d":-409},{"f":1,"T":11,"h":50.3,"d":-411},{"f":1,"T":11,"h":50.6,"d":-403},{"f":1,"T":11,"h":50.85,"d":-409},{"f":1,"T":11,"h":51.1,"d":-391},{"f":1,"T":11,"h":51.4,"d":-397},{"f":1,"T":11,"h":51.8,"d":-379},{"f":1,"T":11,"h":52.1,"d":-374},{"f":1,"T":11,"h":52.4,"d":-385},{"f":1,"T":11,"h":52.7,"d":-391},{"f":1,"T":11,"h":53.1,"d":-397},{"f":1,"T":11,"h":53.5,"d":-391},{"f":1,"T":11,"h":53.9,"d":-403},{"f":1,"T":11,"h":54.2,"d":-397},{"f":1,"T":11,"h":54.6,"d":-420},{"f":1,"T":11,"h":54.8,"d":-414},{"f":1,"T":11,"h":55.1,"d":-368},{"f":1,"T":11,"h":55.3,"d":-403},{"f":1,"T":11,"h":55.35,"d":-411}
],
"cbar": [
{"b":"c","lo":10.0,"hi":10.25},{"b":"c","lo":10.25,"hi":10.5},{"b":"c","lo":10.5,"hi":10.75},{"b":"c","lo":10.75,"hi":11.0},{"b":"c","lo":11.0,"hi":11.25},{"b":"c","lo":11.25,"hi":11.5},{"b":"c","lo":11.5,"hi":11.75},{"b":"c","lo":11.75,"hi":12.0},{"b":"c","lo":12.0,"hi":12.25},{"b":"c","lo":12.25,"hi":12.5},{"b":"c","lo":12.5,"hi":12.75},{"b":"c","lo":12.75,"hi":13.0},{"b":"c","lo":13.0,"hi":13.25},{"b":"c","lo":13.25,"hi":13.5},{"b":"c","lo":13.5,"hi":13.75},{"b":"c","lo":13.75,"hi":14.0},{"b":"c","lo":14.0,"hi":14.25},{"b":"c","lo":14.25,"hi":14.5},{"b":"c","lo":14.5,"hi":14.75},{"b":"c","lo":14.75,"hi":15.0},{"b":"c","lo":15.0,"hi":15.25},{"b":"c","lo":15.25,"hi":15.5},{"b":"c","lo":15.5,"hi":15.75},{"b":"c","lo":15.75,"hi":16.0},{"b":"c","lo":16.0,"hi":16.25},{"b":"c","lo":16.25,"hi":16.5},{"b":"c","lo":16.5,"hi":16.75},{"b":"c","lo":16.75,"hi":17.0},{"b":"c","lo":17.0,"hi":17.25},{"b":"c","lo":17.25,"hi":17.5},{"b":"c","lo":17.5,"hi":17.75},{"b":"c","lo":17.75,"hi":18.0},{"b":"c","lo":18.0,"hi":18.25},{"b":"c","lo":18.25,"hi":18.5},{"b":"c","lo":18.5,"hi":18.75},{"b":"c","lo":18.75,"hi":19.0},{"b":"c","lo":19.0,"hi":19.25},{"b":"c","lo":19.25,"hi":19.5},{"b":"c","lo":19.5,"hi":19.75},{"b":"c","lo":19.75,"hi":20.0},{"b":"c","lo":20.0,"hi":20.25},{"b":"c","lo":20.25,"hi":20.5},{"b":"c","lo":20.5,"hi":20.75},{"b":"c","lo":20.75,"hi":21.0},{"b":"c","lo":21.0,"hi":21.25},{"b":"c","lo":21.25,"hi":21.5},{"b":"c","lo":21.5,"hi":21.75},{"b":"c","lo":21.75,"hi":22.0},{"b":"c","lo":22.0,"hi":22.25},{"b":"c","lo":22.25,"hi":22.5},{"b":"c","lo":22.5,"hi":22.75},{"b":"c","lo":22.75,"hi":23.0},{"b":"c","lo":23.0,"hi":23.25},{"b":"c","lo":23.25,"hi":23.5},{"b":"c","lo":23.5,"hi":23.75},{"b":"c","lo":23.75,"hi":24.0},{"b":"c","lo":24.0,"hi":24.25},{"b":"c","lo":24.25,"hi":24.5},{"b":"c","lo":24.5,"hi":24.75},{"b":"c","lo":24.75,"hi":25.0},{"b":"c","lo":25.0,"hi":25.25},{"b":"c","lo":25.25,"hi":25.5},{"b":"c","lo":25.5,"hi":25.75},{"b":"c","lo":25.75,"hi":26.0},{"b":"c","lo":26.0,"hi":26.25},{"b":"c","lo":26.25,"hi":26.5},{"b":"c","lo":26.5,"hi":26.75},{"b":"c","lo":26.75,"hi":27.0},{"b":"c","lo":27.0,"hi":27.25},{"b":"c","lo":27.25,"hi":27.5},{"b":"c","lo":27.5,"hi":27.75},{"b":"c","lo":27.75,"hi":28.0}
]
},
"vconcat": [
{"bounds": "flush", "spacing": 18, "hconcat": [
 {"width": 901, "height": 282,
  "title": {"text": "Isotherm-Time (FB2,°C)", "anchor": "middle", "offset": 3},
  "layer": [
   {"data": {"name": "iso"}, "transform": [{"filter": "datum.f == 2"}],
    "mark": {"type": "line", "strokeWidth": 1.2, "clip": true},
    "encoding": {
     "x": {"field": "h", "type": "quantitative", "scale": {"domain": [9.64, 56.45], "nice": false, "zero": false},
       "axis": {"orient": "bottom", "values": [10,14,18,22,26,30,34,38,42,46,50,54], "labelExpr": "(10 + floor(datum.value / 24)) + '-' + (datum.value % 24 < 10 ? '0' : '') + (datum.value % 24) + ':00'", "tickSize": -8, "labelPadding": 14, "labelFontSize": 16, "labelFlush": false, "labelOverlap": false, "title": "Time(local time(UTC+8),May)", "titleFontSize": 13, "titlePadding": 1}},
     "y": {"field": "d", "type": "quantitative", "scale": {"domain": [-500, 0], "nice": false, "zero": false},
       "axis": {"orient": "left", "values": [0,-100,-200,-300,-400,-500], "labelExpr": "datum.value == 0 ? '0' : '-' + abs(datum.value)", "tickSize": -8, "labelPadding": 16, "labelFontSize": 16, "title": "Depth(m)", "titleFontSize": 13, "titlePadding": 10}},
     "detail": {"field": "T", "type": "nominal"},
     "stroke": {"field": "T", "type": "quantitative", "legend": null,
       "scale": {"domain": [10,11,12,13,14,15,16,17,18,19,20,21,22,23,24,25,26,27,28], "range": ["#000000","#050505","#0d0d0d","#1e1e1e","#363636","#555555","#808080","#9a9a9a","#a5a5a5","#aaaaaa","#b0b0b0","#b8b8b8","#a8a8a8","#8c8c8c","#6c6c6c","#404040","#232323","#0f0f0f","#000000"], "interpolate": "rgb"}}
    }},
   {"data": {"values": [{"h": 10, "d": -100}]},
    "mark": {"type": "point", "opacity": 0},
    "encoding": {
     "x": {"field": "h", "type": "quantitative", "scale": {"domain": [9.64, 56.45], "nice": false, "zero": false},
       "axis": {"orient": "top", "values": [10,14,18,22,26,30,34,38,42,46,50,54], "labels": false, "tickSize": -8, "title": null}},
     "y": {"field": "d", "type": "quantitative", "scale": {"domain": [-500, 0], "nice": false, "zero": false},
       "axis": {"orient": "right", "values": [-100,-200,-300,-400], "labels": false, "tickSize": -8, "title": null}}
    }}
  ],
  "resolve": {"axis": {"x": "independent", "y": "independent"}}
 },
 {"width": 78, "height": 284,
  "data": {"name": "cbar"},
  "mark": {"type": "rect", "clip": true},
  "encoding": {
   "x": {"field": "b", "type": "nominal", "axis": null, "scale": {"paddingInner": 0, "paddingOuter": 0}},
   "y": {"field": "lo", "type": "quantitative", "scale": {"domain": [10.1, 27.9], "nice": false, "zero": false, "round": true},
     "axis": {"orient": "right", "values": [12,14,16,18,20,22,24,26], "tickSize": -4, "labelPadding": 9, "labelFontSize": 16, "title": null}},
   "y2": {"field": "hi"},
   "fill": {"field": "lo", "type": "quantitative", "legend": null,
     "scale": {"domain": [10,11,12,13,14,15,16,17,18,19,20,21,22,23,24,25,26,27,28], "range": ["#000000","#050505","#0d0d0d","#222222","#444444","#808080","#c0c0c0","#cfcfcf","#d0d0d0","#d4d4d4","#dadada","#ececec","#d8d8d8","#b0b0b0","#8a8a8a","#5a5a5a","#303030","#101010","#000000"], "interpolate": "rgb"}}
  }
 }
]},
{"bounds": "flush", "spacing": 18, "hconcat": [
 {"width": 901, "height": 286,
  "title": {"text": "Isotherm-Time (FB1,°C)", "anchor": "middle", "offset": 3},
  "layer": [
   {"data": {"name": "iso"}, "transform": [{"filter": "datum.f == 1"}],
    "mark": {"type": "line", "strokeWidth": 1.2, "clip": true},
    "encoding": {
     "x": {"field": "h", "type": "quantitative", "scale": {"domain": [9.64, 56.45], "nice": false, "zero": false},
       "axis": {"orient": "bottom", "values": [10,14,18,22,26,30,34,38,42,46,50,54], "labelExpr": "(10 + floor(datum.value / 24)) + '-' + (datum.value % 24 < 10 ? '0' : '') + (datum.value % 24) + ':00'", "tickSize": -8, "labelPadding": 14, "labelFontSize": 16, "labelFlush": false, "labelOverlap": false, "title": "Time(local time(UTC+8),May)", "titleFontSize": 13, "titlePadding": 1}},
     "y": {"field": "d", "type": "quantitative", "scale": {"domain": [-500, 0], "nice": false, "zero": false},
       "axis": {"orient": "left", "values": [0,-100,-200,-300,-400,-500], "labelExpr": "datum.value == 0 ? '0' : '-' + abs(datum.value)", "tickSize": -8, "labelPadding": 16, "labelFontSize": 16, "title": "Depth(m)", "titleFontSize": 13, "titlePadding": 10}},
     "detail": {"field": "T", "type": "nominal"},
     "stroke": {"field": "T", "type": "quantitative", "legend": null,
       "scale": {"domain": [10,11,12,13,14,15,16,17,18,19,20,21,22,23,24,25,26,27,28], "range": ["#000000","#050505","#0d0d0d","#1e1e1e","#363636","#555555","#808080","#9a9a9a","#a5a5a5","#aaaaaa","#b0b0b0","#b8b8b8","#a8a8a8","#8c8c8c","#6c6c6c","#404040","#232323","#0f0f0f","#000000"], "interpolate": "rgb"}}
    }},
   {"data": {"values": [{"h": 10, "d": -100}]},
    "mark": {"type": "point", "opacity": 0},
    "encoding": {
     "x": {"field": "h", "type": "quantitative", "scale": {"domain": [9.64, 56.45], "nice": false, "zero": false},
       "axis": {"orient": "top", "values": [10,14,18,22,26,30,34,38,42,46,50,54], "labels": false, "tickSize": -8, "title": null}},
     "y": {"field": "d", "type": "quantitative", "scale": {"domain": [-500, 0], "nice": false, "zero": false},
       "axis": {"orient": "right", "values": [-100,-200,-300,-400], "labels": false, "tickSize": -8, "title": null}}
    }}
  ],
  "resolve": {"axis": {"x": "independent", "y": "independent"}}
 },
 {"width": 78, "height": 286,
  "data": {"name": "cbar"},
  "mark": {"type": "rect", "clip": true},
  "encoding": {
   "x": {"field": "b", "type": "nominal", "axis": null, "scale": {"paddingInner": 0, "paddingOuter": 0}},
   "y": {"field": "lo", "type": "quantitative", "scale": {"domain": [10.1, 27.9], "nice": false, "zero": false, "round": true},
     "axis": {"orient": "right", "values": [12,14,16,18,20,22,24,26], "tickSize": -4, "labelPadding": 9, "labelFontSize": 16, "title": null}},
   "y2": {"field": "hi"},
   "fill": {"field": "lo", "type": "quantitative", "legend": null,
     "scale": {"domain": [10,11,12,13,14,15,16,17,18,19,20,21,22,23,24,25,26,27,28], "range": ["#000000","#050505","#0d0d0d","#222222","#444444","#808080","#c0c0c0","#cfcfcf","#d0d0d0","#d4d4d4","#dadada","#ececec","#d8d8d8","#b0b0b0","#8a8a8a","#5a5a5a","#303030","#101010","#000000"], "interpolate": "rgb"}}
  }
 }
]}
],
"spacing": 47
}
